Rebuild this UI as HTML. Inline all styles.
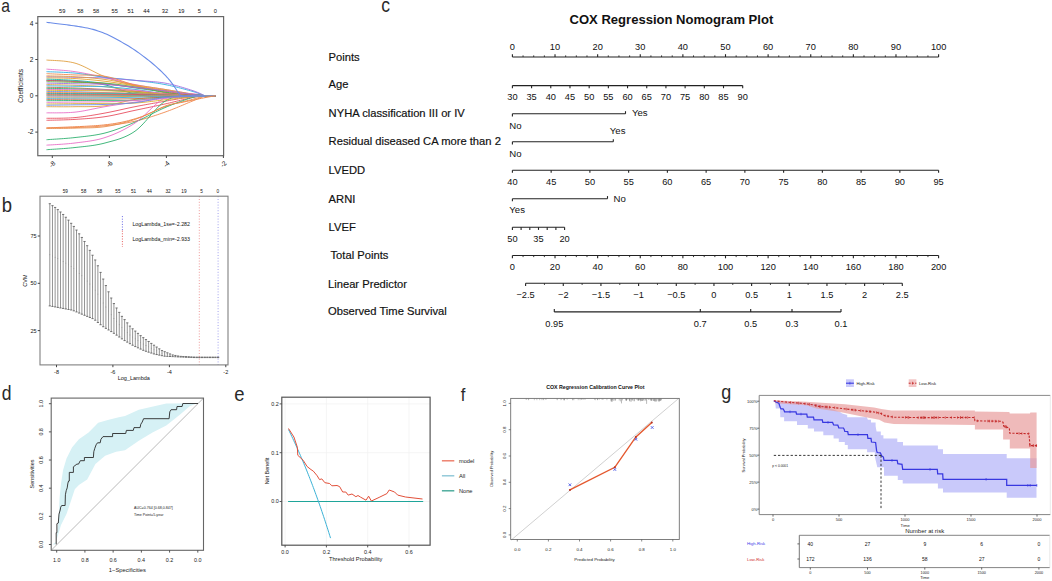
<!DOCTYPE html>
<html><head><meta charset="utf-8"><title>Figure</title>
<style>
html,body{margin:0;padding:0;background:#ffffff;width:1052px;height:581px;overflow:hidden}
svg{display:block}
text{font-family:"Liberation Sans",sans-serif}
</style></head><body>
<svg width="1052" height="581" viewBox="0 0 1052 581">
<rect x="0" y="0" width="1052" height="581" fill="#ffffff"/>
<text transform="translate(1.20,12.40) scale(0.85,1)" x="0" y="0" font-size="18.5" fill="#2a2a2a">a</text>
<text transform="translate(1.80,212.30) scale(0.9,1)" x="0" y="0" font-size="20.5" fill="#2a2a2a">b</text>
<text transform="translate(381.20,11.80) scale(0.9,1)" x="0" y="0" font-size="19.5" fill="#2a2a2a">c</text>
<text transform="translate(1.80,400.40) scale(0.9,1)" x="0" y="0" font-size="19.5" fill="#2a2a2a">d</text>
<text transform="translate(234.20,400.70) scale(0.9,1)" x="0" y="0" font-size="20.5" fill="#2a2a2a">e</text>
<text transform="translate(460.80,400.50) scale(0.9,1)" x="0" y="0" font-size="18.5" fill="#2a2a2a">f</text>
<text transform="translate(721.30,399.30) scale(0.9,1)" x="0" y="0" font-size="20" fill="#2a2a2a">g</text>
<path d="M46.50,60.04 L47.65,60.14 L49.06,60.23 L50.69,60.31 L52.52,60.39 L54.51,60.49 L56.64,60.60 L58.88,60.74 L61.19,60.91 L63.54,61.12 L65.92,61.39 L68.28,61.72 L70.60,62.11 L72.85,62.58 L75.00,63.13 L76.96,63.74 L78.92,64.45 L80.90,65.25 L82.89,66.12 L84.89,67.06 L86.89,68.03 L88.90,69.05 L90.91,70.08 L92.93,71.12 L94.94,72.15 L96.96,73.16 L98.98,74.14 L100.99,75.07 L103.00,75.94 L105.00,76.74 L107.00,77.49 L109.00,78.21 L111.00,78.92 L113.00,79.61 L115.00,80.27 L117.00,80.92 L119.00,81.54 L121.00,82.15 L123.00,82.73 L125.00,83.30 L127.00,83.84 L129.00,84.37 L131.00,84.87 L133.00,85.35 L135.00,85.82 L137.01,86.25 L139.02,86.65 L141.05,87.02 L143.08,87.37 L145.11,87.69 L147.14,87.99 L149.17,88.27 L151.20,88.54 L153.22,88.80 L155.22,89.05 L157.22,89.30 L159.19,89.55 L161.15,89.81 L163.09,90.08 L165.00,90.36 L167.21,90.69 L169.46,91.02 L171.72,91.37 L173.99,91.71 L176.24,92.05 L178.47,92.38 L180.65,92.71 L182.77,93.02 L184.82,93.32 L186.79,93.61 L188.65,93.88 L190.39,94.13 L192.00,94.35 L195.13,94.75 L197.85,95.07 L200.19,95.32 L202.15,95.52 L203.75,95.67 L205.00,95.80 L215.50,95.80" stroke="#E0A040" stroke-width="1.0" fill="none" stroke-opacity="0.9"/>
<path d="M46.50,69.12 L47.65,69.21 L49.06,69.32 L50.69,69.43 L52.52,69.56 L54.51,69.70 L56.64,69.85 L58.88,70.02 L61.19,70.20 L63.54,70.39 L65.92,70.61 L68.28,70.84 L70.60,71.09 L72.85,71.37 L75.00,71.66 L76.96,71.96 L78.92,72.28 L80.90,72.62 L82.89,72.99 L84.89,73.37 L86.89,73.76 L88.90,74.17 L90.91,74.59 L92.93,75.02 L94.94,75.46 L96.96,75.90 L98.98,76.34 L100.99,76.78 L103.00,77.22 L105.00,77.65 L107.00,78.09 L109.00,78.54 L111.00,79.00 L113.00,79.48 L115.00,79.96 L117.00,80.44 L119.00,80.92 L121.00,81.41 L123.00,81.89 L125.00,82.36 L127.00,82.83 L129.00,83.28 L131.00,83.72 L133.00,84.14 L135.00,84.55 L137.01,84.93 L139.02,85.30 L141.05,85.66 L143.08,86.01 L145.11,86.34 L147.14,86.67 L149.17,86.99 L151.20,87.30 L153.22,87.61 L155.22,87.91 L157.22,88.22 L159.19,88.52 L161.15,88.83 L163.09,89.14 L165.00,89.45 L167.21,89.82 L169.46,90.19 L171.72,90.58 L173.99,90.96 L176.24,91.34 L178.47,91.72 L180.65,92.09 L182.77,92.45 L184.82,92.80 L186.79,93.13 L188.65,93.44 L190.39,93.73 L192.00,93.98 L195.13,94.47 L197.85,94.86 L200.19,95.18 L202.15,95.43 L203.75,95.63 L205.00,95.80 L215.50,95.80" stroke="#E870C8" stroke-width="1.0" fill="none" stroke-opacity="0.9"/>
<path d="M46.50,71.66 L47.65,71.71 L49.06,71.77 L50.69,71.83 L52.52,71.89 L54.51,71.96 L56.64,72.04 L58.88,72.13 L61.19,72.22 L63.54,72.33 L65.92,72.46 L68.28,72.60 L70.60,72.75 L72.85,72.92 L75.00,73.11 L76.96,73.31 L78.92,73.54 L80.90,73.79 L82.89,74.06 L84.89,74.34 L86.89,74.64 L88.90,74.94 L90.91,75.25 L92.93,75.56 L94.94,75.88 L96.96,76.18 L98.98,76.48 L100.99,76.76 L103.00,77.03 L105.00,77.29 L107.00,77.52 L109.00,77.74 L111.00,77.96 L113.00,78.16 L115.00,78.36 L117.00,78.55 L119.00,78.74 L121.00,78.92 L123.00,79.11 L125.00,79.30 L127.00,79.50 L129.00,79.70 L131.00,79.91 L133.00,80.14 L135.00,80.37 L137.01,80.61 L139.02,80.85 L141.05,81.10 L143.08,81.34 L145.11,81.59 L147.14,81.84 L149.17,82.10 L151.20,82.37 L153.22,82.64 L155.22,82.93 L157.22,83.22 L159.19,83.53 L161.15,83.85 L163.09,84.19 L165.00,84.55 L167.21,84.99 L169.46,85.46 L171.72,85.97 L173.99,86.50 L176.24,87.04 L178.47,87.60 L180.65,88.16 L182.77,88.72 L184.82,89.27 L186.79,89.81 L188.65,90.32 L190.39,90.81 L192.00,91.26 L195.13,92.20 L197.85,93.10 L200.19,93.95 L202.15,94.70 L203.75,95.33 L205.00,95.80 L215.50,95.80" stroke="#30B0E0" stroke-width="1.0" fill="none" stroke-opacity="0.9"/>
<path d="M46.50,76.74 L47.65,76.76 L49.06,76.79 L50.69,76.82 L52.52,76.85 L54.51,76.89 L56.64,76.93 L58.88,76.97 L61.19,77.01 L63.54,77.06 L65.92,77.10 L68.28,77.15 L70.60,77.19 L72.85,77.24 L75.00,77.29 L76.96,77.33 L78.92,77.36 L80.90,77.39 L82.89,77.42 L84.89,77.46 L86.89,77.49 L88.90,77.52 L90.91,77.56 L92.93,77.60 L94.94,77.64 L96.96,77.70 L98.98,77.76 L100.99,77.83 L103.00,77.92 L105.00,78.01 L107.00,78.12 L109.00,78.24 L111.00,78.37 L113.00,78.52 L115.00,78.67 L117.00,78.82 L119.00,78.98 L121.00,79.15 L123.00,79.32 L125.00,79.50 L127.00,79.67 L129.00,79.85 L131.00,80.03 L133.00,80.20 L135.00,80.37 L137.01,80.53 L139.02,80.68 L141.05,80.82 L143.08,80.95 L145.11,81.09 L147.14,81.22 L149.17,81.36 L151.20,81.50 L153.22,81.66 L155.22,81.84 L157.22,82.03 L159.19,82.25 L161.15,82.50 L163.09,82.78 L165.00,83.09 L167.21,83.51 L169.46,83.98 L171.72,84.50 L173.99,85.05 L176.24,85.64 L178.47,86.25 L180.65,86.87 L182.77,87.49 L184.82,88.11 L186.79,88.71 L188.65,89.29 L190.39,89.84 L192.00,90.36 L195.13,91.43 L197.85,92.51 L200.19,93.53 L202.15,94.46 L203.75,95.23 L205.00,95.80 L215.50,95.80" stroke="#A070E0" stroke-width="1.0" fill="none" stroke-opacity="0.9"/>
<path d="M46.50,75.83 L47.65,75.87 L49.06,75.90 L50.69,75.94 L52.52,75.98 L54.51,76.02 L56.64,76.07 L58.88,76.12 L61.19,76.18 L63.54,76.25 L65.92,76.32 L68.28,76.41 L70.60,76.51 L72.85,76.62 L75.00,76.74 L76.96,76.87 L78.92,76.99 L80.90,77.13 L82.89,77.27 L84.89,77.41 L86.89,77.57 L88.90,77.73 L90.91,77.91 L92.93,78.09 L94.94,78.29 L96.96,78.50 L98.98,78.72 L100.99,78.95 L103.00,79.20 L105.00,79.47 L107.00,79.75 L109.00,80.06 L111.00,80.39 L113.00,80.75 L115.00,81.11 L117.00,81.49 L119.00,81.88 L121.00,82.27 L123.00,82.67 L125.00,83.06 L127.00,83.45 L129.00,83.84 L131.00,84.21 L133.00,84.57 L135.00,84.91 L137.01,85.24 L139.02,85.56 L141.05,85.88 L143.08,86.19 L145.11,86.49 L147.14,86.79 L149.17,87.09 L151.20,87.38 L153.22,87.68 L155.22,87.97 L157.22,88.26 L159.19,88.55 L161.15,88.85 L163.09,89.15 L165.00,89.45 L167.21,89.80 L169.46,90.17 L171.72,90.55 L173.99,90.93 L176.24,91.32 L178.47,91.70 L180.65,92.07 L182.77,92.44 L184.82,92.79 L186.79,93.12 L188.65,93.44 L190.39,93.73 L192.00,93.98 L195.13,94.47 L197.85,94.86 L200.19,95.18 L202.15,95.43 L203.75,95.63 L205.00,95.80 L215.50,95.80" stroke="#E0A040" stroke-width="1.0" fill="none" stroke-opacity="0.9"/>
<path d="M46.50,77.83 L47.65,77.86 L49.06,77.88 L50.69,77.90 L52.52,77.93 L54.51,77.96 L56.64,77.99 L58.88,78.02 L61.19,78.07 L63.54,78.12 L65.92,78.18 L68.28,78.26 L70.60,78.34 L72.85,78.44 L75.00,78.56 L76.96,78.68 L78.92,78.81 L80.90,78.95 L82.89,79.09 L84.89,79.25 L86.89,79.42 L88.90,79.59 L90.91,79.77 L92.93,79.96 L94.94,80.16 L96.96,80.37 L98.98,80.59 L100.99,80.81 L103.00,81.04 L105.00,81.28 L107.00,81.53 L109.00,81.79 L111.00,82.07 L113.00,82.36 L115.00,82.66 L117.00,82.96 L119.00,83.28 L121.00,83.59 L123.00,83.92 L125.00,84.24 L127.00,84.56 L129.00,84.88 L131.00,85.20 L133.00,85.51 L135.00,85.82 L137.01,86.12 L139.02,86.43 L141.05,86.73 L143.08,87.04 L145.11,87.35 L147.14,87.66 L149.17,87.97 L151.20,88.27 L153.22,88.58 L155.22,88.88 L157.22,89.18 L159.19,89.48 L161.15,89.78 L163.09,90.07 L165.00,90.36 L167.21,90.69 L169.46,91.02 L171.72,91.37 L173.99,91.71 L176.24,92.05 L178.47,92.38 L180.65,92.71 L182.77,93.02 L184.82,93.32 L186.79,93.61 L188.65,93.88 L190.39,94.13 L192.00,94.35 L195.13,94.75 L197.85,95.07 L200.19,95.32 L202.15,95.52 L203.75,95.67 L205.00,95.80 L215.50,95.80" stroke="#E8A030" stroke-width="1.0" fill="none" stroke-opacity="0.9"/>
<path d="M46.50,80.37 L47.65,80.40 L49.06,80.43 L50.69,80.46 L52.52,80.49 L54.51,80.52 L56.64,80.56 L58.88,80.60 L61.19,80.65 L63.54,80.72 L65.92,80.80 L68.28,80.89 L70.60,81.00 L72.85,81.13 L75.00,81.28 L76.96,81.43 L78.92,81.59 L80.90,81.74 L82.89,81.91 L84.89,82.09 L86.89,82.27 L88.90,82.48 L90.91,82.70 L92.93,82.94 L94.94,83.20 L96.96,83.48 L98.98,83.79 L100.99,84.13 L103.00,84.50 L105.00,84.91 L107.00,85.37 L109.00,85.89 L111.00,86.46 L113.00,87.08 L115.00,87.73 L117.00,88.41 L119.00,89.10 L121.00,89.80 L123.00,90.49 L125.00,91.16 L127.00,91.81 L129.00,92.43 L131.00,93.01 L133.00,93.53 L135.00,93.98 L137.01,94.39 L139.02,94.78 L141.05,95.13 L143.08,95.46 L145.11,95.77 L147.14,96.05 L149.17,96.30 L151.20,96.54 L153.22,96.75 L155.22,96.94 L157.22,97.11 L159.19,97.27 L161.15,97.40 L163.09,97.52 L165.00,97.61 L167.21,97.69 L169.46,97.73 L171.72,97.72 L173.99,97.67 L176.24,97.60 L178.47,97.50 L180.65,97.39 L182.77,97.26 L184.82,97.14 L186.79,97.01 L188.65,96.89 L190.39,96.79 L192.00,96.71 L195.13,96.55 L197.85,96.37 L200.19,96.20 L202.15,96.04 L203.75,95.90 L205.00,95.80 L215.50,95.80" stroke="#20A090" stroke-width="1.0" fill="none" stroke-opacity="0.9"/>
<path d="M46.50,106.69 L47.65,106.69 L49.06,106.70 L50.69,106.71 L52.52,106.72 L54.51,106.73 L56.64,106.74 L58.88,106.75 L61.19,106.75 L63.54,106.76 L65.92,106.76 L68.28,106.75 L70.60,106.74 L72.85,106.72 L75.00,106.69 L76.96,106.67 L78.92,106.66 L80.90,106.65 L82.89,106.66 L84.89,106.66 L86.89,106.65 L88.90,106.64 L90.91,106.62 L92.93,106.58 L94.94,106.52 L96.96,106.44 L98.98,106.33 L100.99,106.18 L103.00,106.00 L105.00,105.78 L107.00,105.51 L109.00,105.18 L111.00,104.80 L113.00,104.38 L115.00,103.93 L117.00,103.46 L119.00,102.97 L121.00,102.47 L123.00,101.97 L125.00,101.48 L127.00,101.01 L129.00,100.56 L131.00,100.14 L133.00,99.76 L135.00,99.43 L137.01,99.14 L139.02,98.87 L141.05,98.62 L143.08,98.40 L145.11,98.19 L147.14,97.99 L149.17,97.81 L151.20,97.65 L153.22,97.49 L155.22,97.35 L157.22,97.21 L159.19,97.08 L161.15,96.95 L163.09,96.83 L165.00,96.71 L167.21,96.58 L169.46,96.46 L171.72,96.36 L173.99,96.26 L176.24,96.18 L178.47,96.12 L180.65,96.05 L182.77,96.00 L184.82,95.95 L186.79,95.91 L188.65,95.87 L190.39,95.84 L192.00,95.80 L195.13,95.75 L197.85,95.73 L200.19,95.74 L202.15,95.77 L203.75,95.79 L205.00,95.80 L215.50,95.80" stroke="#E0A040" stroke-width="1.0" fill="none" stroke-opacity="0.9"/>
<path d="M46.50,112.86 L47.65,112.84 L49.06,112.84 L50.69,112.84 L52.52,112.84 L54.51,112.85 L56.64,112.85 L58.88,112.84 L61.19,112.81 L63.54,112.77 L65.92,112.71 L68.28,112.62 L70.60,112.49 L72.85,112.33 L75.00,112.13 L76.96,111.91 L78.92,111.64 L80.90,111.33 L82.89,111.00 L84.89,110.64 L86.89,110.25 L88.90,109.85 L90.91,109.44 L92.93,109.03 L94.94,108.61 L96.96,108.20 L98.98,107.80 L100.99,107.41 L103.00,107.04 L105.00,106.69 L107.00,106.36 L109.00,106.03 L111.00,105.71 L113.00,105.39 L115.00,105.08 L117.00,104.77 L119.00,104.46 L121.00,104.16 L123.00,103.86 L125.00,103.56 L127.00,103.27 L129.00,102.99 L131.00,102.71 L133.00,102.43 L135.00,102.15 L137.01,101.88 L139.02,101.62 L141.05,101.35 L143.08,101.10 L145.11,100.84 L147.14,100.59 L149.17,100.35 L151.20,100.10 L153.22,99.87 L155.22,99.63 L157.22,99.40 L159.19,99.18 L161.15,98.95 L163.09,98.74 L165.00,98.52 L167.21,98.28 L169.46,98.03 L171.72,97.78 L173.99,97.53 L176.24,97.29 L178.47,97.05 L180.65,96.82 L182.77,96.61 L184.82,96.41 L186.79,96.22 L188.65,96.06 L190.39,95.92 L192.00,95.80 L195.13,95.64 L197.85,95.60 L200.19,95.63 L202.15,95.70 L203.75,95.77 L205.00,95.80 L215.50,95.80" stroke="#E870C8" stroke-width="1.0" fill="none" stroke-opacity="0.9"/>
<path d="M46.50,118.31 L47.65,118.29 L49.06,118.27 L50.69,118.27 L52.52,118.26 L54.51,118.26 L56.64,118.25 L58.88,118.23 L61.19,118.20 L63.54,118.15 L65.92,118.09 L68.28,118.00 L70.60,117.89 L72.85,117.75 L75.00,117.58 L76.96,117.39 L78.92,117.18 L80.90,116.95 L82.89,116.69 L84.89,116.42 L86.89,116.13 L88.90,115.82 L90.91,115.50 L92.93,115.17 L94.94,114.83 L96.96,114.48 L98.98,114.13 L100.99,113.77 L103.00,113.41 L105.00,113.04 L107.00,112.67 L109.00,112.28 L111.00,111.87 L113.00,111.45 L115.00,111.03 L117.00,110.59 L119.00,110.15 L121.00,109.70 L123.00,109.25 L125.00,108.81 L127.00,108.37 L129.00,107.93 L131.00,107.51 L133.00,107.09 L135.00,106.69 L137.01,106.30 L139.02,105.91 L141.05,105.53 L143.08,105.15 L145.11,104.77 L147.14,104.40 L149.17,104.04 L151.20,103.67 L153.22,103.31 L155.22,102.96 L157.22,102.61 L159.19,102.26 L161.15,101.92 L163.09,101.58 L165.00,101.24 L167.21,100.86 L169.46,100.46 L171.72,100.06 L173.99,99.66 L176.24,99.27 L178.47,98.88 L180.65,98.51 L182.77,98.15 L184.82,97.81 L186.79,97.49 L188.65,97.20 L190.39,96.94 L192.00,96.71 L195.13,96.34 L197.85,96.10 L200.19,95.97 L202.15,95.90 L203.75,95.86 L205.00,95.80 L215.50,95.80" stroke="#E85060" stroke-width="1.0" fill="none" stroke-opacity="0.9"/>
<path d="M46.50,120.30 L47.65,120.27 L49.06,120.24 L50.69,120.20 L52.52,120.16 L54.51,120.12 L56.64,120.07 L58.88,120.02 L61.19,119.96 L63.54,119.89 L65.92,119.81 L68.28,119.73 L70.60,119.63 L72.85,119.52 L75.00,119.39 L76.96,119.27 L78.92,119.15 L80.90,119.02 L82.89,118.89 L84.89,118.76 L86.89,118.61 L88.90,118.46 L90.91,118.29 L92.93,118.11 L94.94,117.92 L96.96,117.71 L98.98,117.48 L100.99,117.23 L103.00,116.96 L105.00,116.67 L107.00,116.35 L109.00,116.01 L111.00,115.63 L113.00,115.24 L115.00,114.82 L117.00,114.39 L119.00,113.95 L121.00,113.50 L123.00,113.04 L125.00,112.57 L127.00,112.11 L129.00,111.65 L131.00,111.19 L133.00,110.75 L135.00,110.32 L137.01,109.90 L139.02,109.47 L141.05,109.05 L143.08,108.63 L145.11,108.20 L147.14,107.78 L149.17,107.36 L151.20,106.93 L153.22,106.51 L155.22,106.09 L157.22,105.66 L159.19,105.24 L161.15,104.81 L163.09,104.39 L165.00,103.97 L167.21,103.47 L169.46,102.94 L171.72,102.41 L173.99,101.86 L176.24,101.32 L178.47,100.78 L180.65,100.24 L182.77,99.73 L184.82,99.24 L186.79,98.77 L188.65,98.34 L190.39,97.95 L192.00,97.61 L195.13,97.03 L197.85,96.61 L200.19,96.31 L202.15,96.10 L203.75,95.94 L205.00,95.80 L215.50,95.80" stroke="#E85060" stroke-width="1.0" fill="none" stroke-opacity="0.9"/>
<path d="M46.50,127.93 L47.65,127.91 L49.06,127.91 L50.69,127.90 L52.52,127.89 L54.51,127.88 L56.64,127.87 L58.88,127.86 L61.19,127.84 L63.54,127.81 L65.92,127.78 L68.28,127.74 L70.60,127.69 L72.85,127.63 L75.00,127.56 L76.96,127.49 L78.92,127.41 L80.90,127.34 L82.89,127.25 L84.89,127.17 L86.89,127.07 L88.90,126.97 L90.91,126.86 L92.93,126.74 L94.94,126.61 L96.96,126.46 L98.98,126.31 L100.99,126.14 L103.00,125.95 L105.00,125.75 L107.00,125.53 L109.00,125.31 L111.00,125.09 L113.00,124.85 L115.00,124.60 L117.00,124.35 L119.00,124.07 L121.00,123.79 L123.00,123.48 L125.00,123.16 L127.00,122.82 L129.00,122.45 L131.00,122.06 L133.00,121.65 L135.00,121.21 L137.01,120.74 L139.02,120.24 L141.05,119.71 L143.08,119.16 L145.11,118.59 L147.14,117.99 L149.17,117.38 L151.20,116.75 L153.22,116.11 L155.22,115.46 L157.22,114.80 L159.19,114.14 L161.15,113.47 L163.09,112.80 L165.00,112.13 L167.21,111.34 L169.46,110.51 L171.72,109.63 L173.99,108.74 L176.24,107.83 L178.47,106.92 L180.65,106.01 L182.77,105.12 L184.82,104.25 L186.79,103.42 L188.65,102.64 L190.39,101.91 L192.00,101.24 L195.13,99.96 L197.85,98.82 L200.19,97.84 L202.15,97.01 L203.75,96.33 L205.00,95.80 L215.50,95.80" stroke="#F08A50" stroke-width="1.0" fill="none" stroke-opacity="0.9"/>
<path d="M46.50,128.47 L47.65,128.46 L49.06,128.45 L50.69,128.44 L52.52,128.42 L54.51,128.41 L56.64,128.40 L58.88,128.38 L61.19,128.36 L63.54,128.33 L65.92,128.30 L68.28,128.26 L70.60,128.22 L72.85,128.17 L75.00,128.11 L76.96,128.05 L78.92,128.01 L80.90,127.98 L82.89,127.95 L84.89,127.92 L86.89,127.88 L88.90,127.84 L90.91,127.78 L92.93,127.71 L94.94,127.61 L96.96,127.49 L98.98,127.33 L100.99,127.15 L103.00,126.92 L105.00,126.66 L107.00,126.35 L109.00,126.02 L111.00,125.66 L113.00,125.28 L115.00,124.87 L117.00,124.43 L119.00,123.97 L121.00,123.48 L123.00,122.97 L125.00,122.43 L127.00,121.87 L129.00,121.29 L131.00,120.68 L133.00,120.05 L135.00,119.39 L137.01,118.69 L139.02,117.93 L141.05,117.12 L143.08,116.26 L145.11,115.36 L147.14,114.44 L149.17,113.51 L151.20,112.57 L153.22,111.64 L155.22,110.72 L157.22,109.83 L159.19,108.97 L161.15,108.15 L163.09,107.39 L165.00,106.69 L167.21,105.94 L169.46,105.24 L171.72,104.57 L173.99,103.94 L176.24,103.34 L178.47,102.77 L180.65,102.23 L182.77,101.71 L184.82,101.22 L186.79,100.75 L188.65,100.29 L190.39,99.85 L192.00,99.43 L195.13,98.57 L197.85,97.82 L200.19,97.16 L202.15,96.61 L203.75,96.15 L205.00,95.80 L215.50,95.80" stroke="#E89050" stroke-width="1.0" fill="none" stroke-opacity="0.9"/>
<path d="M46.50,139.72 L47.65,139.64 L49.06,139.55 L50.69,139.44 L52.52,139.33 L54.51,139.20 L56.64,139.07 L58.88,138.92 L61.19,138.76 L63.54,138.59 L65.92,138.40 L68.28,138.21 L70.60,138.00 L72.85,137.78 L75.00,137.54 L76.96,137.32 L78.92,137.11 L80.90,136.89 L82.89,136.67 L84.89,136.44 L86.89,136.20 L88.90,135.95 L90.91,135.68 L92.93,135.39 L94.94,135.08 L96.96,134.73 L98.98,134.36 L100.99,133.95 L103.00,133.50 L105.00,133.01 L107.00,132.47 L109.00,131.90 L111.00,131.29 L113.00,130.65 L115.00,129.98 L117.00,129.28 L119.00,128.56 L121.00,127.81 L123.00,127.04 L125.00,126.25 L127.00,125.45 L129.00,124.63 L131.00,123.80 L133.00,122.96 L135.00,122.12 L137.01,121.25 L139.02,120.33 L141.05,119.37 L143.08,118.39 L145.11,117.38 L147.14,116.35 L149.17,115.32 L151.20,114.28 L153.22,113.25 L155.22,112.24 L157.22,111.24 L159.19,110.27 L161.15,109.33 L163.09,108.44 L165.00,107.60 L167.21,106.66 L169.46,105.73 L171.72,104.82 L173.99,103.92 L176.24,103.06 L178.47,102.22 L180.65,101.42 L182.77,100.65 L184.82,99.94 L186.79,99.27 L188.65,98.66 L190.39,98.10 L192.00,97.61 L195.13,96.82 L197.85,96.34 L200.19,96.08 L202.15,95.97 L203.75,95.90 L205.00,95.80 L215.50,95.80" stroke="#30B070" stroke-width="1.0" fill="none" stroke-opacity="0.9"/>
<path d="M46.50,145.17 L47.65,145.09 L49.06,145.00 L50.69,144.90 L52.52,144.80 L54.51,144.68 L56.64,144.56 L58.88,144.42 L61.19,144.27 L63.54,144.10 L65.92,143.91 L68.28,143.71 L70.60,143.49 L72.85,143.25 L75.00,142.99 L76.96,142.74 L78.92,142.50 L80.90,142.26 L82.89,142.01 L84.89,141.75 L86.89,141.48 L88.90,141.19 L90.91,140.88 L92.93,140.53 L94.94,140.15 L96.96,139.73 L98.98,139.27 L100.99,138.75 L103.00,138.18 L105.00,137.54 L107.00,136.86 L109.00,136.15 L111.00,135.40 L113.00,134.61 L115.00,133.78 L117.00,132.91 L119.00,132.00 L121.00,131.05 L123.00,130.05 L125.00,129.01 L127.00,127.91 L129.00,126.77 L131.00,125.58 L133.00,124.33 L135.00,123.02 L137.01,121.60 L139.02,120.01 L141.05,118.29 L143.08,116.46 L145.11,114.55 L147.14,112.60 L149.17,110.62 L151.20,108.66 L153.22,106.73 L155.22,104.87 L157.22,103.11 L159.19,101.48 L161.15,100.00 L163.09,98.70 L165.00,97.61 L167.21,96.61 L169.46,95.80 L171.72,95.18 L173.99,94.71 L176.24,94.38 L178.47,94.17 L180.65,94.05 L182.77,93.99 L184.82,93.99 L186.79,94.00 L188.65,94.03 L190.39,94.03 L192.00,93.98 L195.13,93.99 L197.85,94.25 L200.19,94.67 L202.15,95.13 L203.75,95.54 L205.00,95.80 L215.50,95.80" stroke="#E870C8" stroke-width="1.0" fill="none" stroke-opacity="0.9"/>
<path d="M46.50,149.71 L47.65,149.62 L49.06,149.53 L50.69,149.43 L52.52,149.31 L54.51,149.19 L56.64,149.05 L58.88,148.90 L61.19,148.74 L63.54,148.57 L65.92,148.39 L68.28,148.19 L70.60,147.98 L72.85,147.76 L75.00,147.53 L76.96,147.31 L78.92,147.10 L80.90,146.89 L82.89,146.68 L84.89,146.46 L86.89,146.23 L88.90,145.99 L90.91,145.73 L92.93,145.44 L94.94,145.13 L96.96,144.78 L98.98,144.40 L100.99,143.98 L103.00,143.51 L105.00,142.99 L107.00,142.45 L109.00,141.92 L111.00,141.39 L113.00,140.84 L115.00,140.27 L117.00,139.66 L119.00,139.02 L121.00,138.32 L123.00,137.57 L125.00,136.74 L127.00,135.83 L129.00,134.83 L131.00,133.73 L133.00,132.52 L135.00,131.19 L137.01,129.67 L139.02,127.93 L141.05,125.99 L143.08,123.89 L145.11,121.68 L147.14,119.39 L149.17,117.05 L151.20,114.71 L153.22,112.40 L155.22,110.15 L157.22,108.01 L159.19,106.01 L161.15,104.20 L163.09,102.59 L165.00,101.24 L167.21,99.96 L169.46,98.90 L171.72,98.02 L173.99,97.31 L176.24,96.75 L178.47,96.32 L180.65,95.99 L182.77,95.73 L184.82,95.54 L186.79,95.38 L188.65,95.23 L190.39,95.08 L192.00,94.89 L195.13,94.63 L197.85,94.69 L200.19,94.95 L202.15,95.30 L203.75,95.62 L205.00,95.80 L215.50,95.80" stroke="#30B070" stroke-width="1.0" fill="none" stroke-opacity="0.9"/>
<path d="M46.50,73.66 L47.65,73.71 L49.06,73.77 L50.69,73.84 L52.52,73.93 L54.51,74.01 L56.64,74.11 L58.88,74.21 L61.19,74.31 L63.54,74.42 L65.92,74.52 L68.28,74.63 L70.60,74.73 L72.85,74.83 L75.00,74.93 L76.96,75.00 L78.92,75.04 L80.90,75.07 L82.89,75.08 L84.89,75.09 L86.89,75.09 L88.90,75.10 L90.91,75.13 L92.93,75.18 L94.94,75.25 L96.96,75.36 L98.98,75.51 L100.99,75.71 L103.00,75.96 L105.00,76.27 L107.00,76.65 L109.00,77.09 L111.00,77.60 L113.00,78.15 L115.00,78.75 L117.00,79.38 L119.00,80.04 L121.00,80.71 L123.00,81.40 L125.00,82.08 L127.00,82.76 L129.00,83.43 L131.00,84.07 L133.00,84.68 L135.00,85.25 L137.01,85.81 L139.02,86.37 L141.05,86.93 L143.08,87.49 L145.11,88.04 L147.14,88.59 L149.17,89.13 L151.20,89.66 L153.22,90.17 L155.22,90.67 L157.22,91.14 L159.19,91.60 L161.15,92.03 L163.09,92.42 L165.00,92.79 L167.21,93.18 L169.46,93.53 L171.72,93.86 L173.99,94.15 L176.24,94.42 L178.47,94.66 L180.65,94.87 L182.77,95.07 L184.82,95.24 L186.79,95.40 L188.65,95.55 L190.39,95.68 L192.00,95.80 L195.13,95.97 L197.85,96.02 L200.19,95.99 L202.15,95.91 L203.75,95.83 L205.00,95.80 L215.50,95.80" stroke="#F08A50" stroke-width="1.0" fill="none" stroke-opacity="0.9"/>
<path d="M46.50,79.10 L47.65,79.15 L49.06,79.21 L50.69,79.27 L52.52,79.33 L54.51,79.41 L56.64,79.49 L58.88,79.57 L61.19,79.67 L63.54,79.77 L65.92,79.88 L68.28,80.00 L70.60,80.13 L72.85,80.27 L75.00,80.42 L76.96,80.57 L78.92,80.73 L80.90,80.90 L82.89,81.07 L84.89,81.25 L86.89,81.44 L88.90,81.64 L90.91,81.84 L92.93,82.05 L94.94,82.27 L96.96,82.49 L98.98,82.72 L100.99,82.96 L103.00,83.20 L105.00,83.44 L107.00,83.70 L109.00,83.97 L111.00,84.25 L113.00,84.54 L115.00,84.84 L117.00,85.14 L119.00,85.45 L121.00,85.76 L123.00,86.07 L125.00,86.39 L127.00,86.70 L129.00,87.01 L131.00,87.32 L133.00,87.62 L135.00,87.92 L137.01,88.21 L139.02,88.50 L141.05,88.80 L143.08,89.09 L145.11,89.38 L147.14,89.68 L149.17,89.97 L151.20,90.26 L153.22,90.54 L155.22,90.83 L157.22,91.11 L159.19,91.38 L161.15,91.65 L163.09,91.92 L165.00,92.18 L167.21,92.48 L169.46,92.78 L171.72,93.09 L173.99,93.40 L176.24,93.71 L178.47,94.00 L180.65,94.29 L182.77,94.56 L184.82,94.82 L186.79,95.06 L188.65,95.27 L190.39,95.46 L192.00,95.61 L195.13,95.83 L197.85,95.92 L200.19,95.92 L202.15,95.87 L203.75,95.82 L205.00,95.80 L215.50,95.80" stroke="#20B0A0" stroke-width="1.0" fill="none" stroke-opacity="0.9"/>
<path d="M46.50,80.37 L47.65,80.42 L49.06,80.48 L50.69,80.54 L52.52,80.61 L54.51,80.68 L56.64,80.76 L58.88,80.85 L61.19,80.94 L63.54,81.04 L65.92,81.15 L68.28,81.26 L70.60,81.37 L72.85,81.49 L75.00,81.62 L76.96,81.74 L78.92,81.87 L80.90,82.01 L82.89,82.15 L84.89,82.29 L86.89,82.44 L88.90,82.59 L90.91,82.75 L92.93,82.92 L94.94,83.09 L96.96,83.26 L98.98,83.44 L100.99,83.62 L103.00,83.81 L105.00,84.00 L107.00,84.20 L109.00,84.40 L111.00,84.62 L113.00,84.83 L115.00,85.06 L117.00,85.28 L119.00,85.52 L121.00,85.75 L123.00,85.99 L125.00,86.23 L127.00,86.47 L129.00,86.72 L131.00,86.96 L133.00,87.20 L135.00,87.44 L137.01,87.68 L139.02,87.93 L141.05,88.17 L143.08,88.41 L145.11,88.66 L147.14,88.91 L149.17,89.16 L151.20,89.41 L153.22,89.66 L155.22,89.91 L157.22,90.17 L159.19,90.43 L161.15,90.69 L163.09,90.95 L165.00,91.22 L167.21,91.54 L169.46,91.89 L171.72,92.25 L173.99,92.62 L176.24,93.00 L178.47,93.37 L180.65,93.74 L182.77,94.10 L184.82,94.43 L186.79,94.75 L188.65,95.03 L190.39,95.27 L192.00,95.47 L195.13,95.75 L197.85,95.88 L200.19,95.90 L202.15,95.86 L203.75,95.81 L205.00,95.80 L215.50,95.80" stroke="#E85060" stroke-width="1.0" fill="none" stroke-opacity="0.9"/>
<path d="M46.50,81.64 L47.65,81.67 L49.06,81.71 L50.69,81.75 L52.52,81.80 L54.51,81.85 L56.64,81.90 L58.88,81.96 L61.19,82.02 L63.54,82.08 L65.92,82.14 L68.28,82.20 L70.60,82.26 L72.85,82.31 L75.00,82.37 L76.96,82.41 L78.92,82.45 L80.90,82.47 L82.89,82.49 L84.89,82.51 L86.89,82.53 L88.90,82.55 L90.91,82.58 L92.93,82.61 L94.94,82.66 L96.96,82.71 L98.98,82.79 L100.99,82.88 L103.00,83.00 L105.00,83.13 L107.00,83.29 L109.00,83.47 L111.00,83.67 L113.00,83.88 L115.00,84.10 L117.00,84.34 L119.00,84.59 L121.00,84.86 L123.00,85.13 L125.00,85.41 L127.00,85.69 L129.00,85.98 L131.00,86.28 L133.00,86.58 L135.00,86.88 L137.01,87.19 L139.02,87.52 L141.05,87.86 L143.08,88.22 L145.11,88.58 L147.14,88.95 L149.17,89.33 L151.20,89.71 L153.22,90.08 L155.22,90.45 L157.22,90.82 L159.19,91.17 L161.15,91.51 L163.09,91.84 L165.00,92.15 L167.21,92.49 L169.46,92.84 L171.72,93.18 L173.99,93.51 L176.24,93.84 L178.47,94.15 L180.65,94.45 L182.77,94.74 L184.82,95.00 L186.79,95.24 L188.65,95.46 L190.39,95.64 L192.00,95.80 L195.13,96.01 L197.85,96.07 L200.19,96.03 L202.15,95.94 L203.75,95.84 L205.00,95.80 L215.50,95.80" stroke="#60B040" stroke-width="1.0" fill="none" stroke-opacity="0.9"/>
<path d="M46.50,83.09 L47.65,83.12 L49.06,83.15 L50.69,83.19 L52.52,83.23 L54.51,83.28 L56.64,83.33 L58.88,83.38 L61.19,83.43 L63.54,83.49 L65.92,83.54 L68.28,83.60 L70.60,83.65 L72.85,83.70 L75.00,83.75 L76.96,83.79 L78.92,83.83 L80.90,83.86 L82.89,83.88 L84.89,83.90 L86.89,83.93 L88.90,83.95 L90.91,83.98 L92.93,84.02 L94.94,84.06 L96.96,84.11 L98.98,84.17 L100.99,84.25 L103.00,84.34 L105.00,84.44 L107.00,84.57 L109.00,84.70 L111.00,84.85 L113.00,85.01 L115.00,85.18 L117.00,85.35 L119.00,85.54 L121.00,85.73 L123.00,85.93 L125.00,86.14 L127.00,86.34 L129.00,86.55 L131.00,86.76 L133.00,86.98 L135.00,87.19 L137.01,87.40 L139.02,87.63 L141.05,87.85 L143.08,88.09 L145.11,88.32 L147.14,88.57 L149.17,88.81 L151.20,89.06 L153.22,89.31 L155.22,89.56 L157.22,89.80 L159.19,90.05 L161.15,90.30 L163.09,90.54 L165.00,90.78 L167.21,91.06 L169.46,91.34 L171.72,91.64 L173.99,91.93 L176.24,92.23 L178.47,92.53 L180.65,92.82 L182.77,93.10 L184.82,93.37 L186.79,93.63 L188.65,93.87 L190.39,94.10 L192.00,94.30 L195.13,94.69 L197.85,95.01 L200.19,95.27 L202.15,95.49 L203.75,95.66 L205.00,95.80 L215.50,95.80" stroke="#A070E0" stroke-width="1.0" fill="none" stroke-opacity="0.9"/>
<path d="M46.50,84.55 L47.65,84.57 L49.06,84.61 L50.69,84.64 L52.52,84.68 L54.51,84.72 L56.64,84.77 L58.88,84.82 L61.19,84.87 L63.54,84.93 L65.92,84.99 L68.28,85.05 L70.60,85.12 L72.85,85.20 L75.00,85.27 L76.96,85.34 L78.92,85.41 L80.90,85.48 L82.89,85.54 L84.89,85.61 L86.89,85.68 L88.90,85.76 L90.91,85.84 L92.93,85.93 L94.94,86.04 L96.96,86.15 L98.98,86.28 L100.99,86.42 L103.00,86.58 L105.00,86.76 L107.00,86.96 L109.00,87.19 L111.00,87.44 L113.00,87.71 L115.00,87.99 L117.00,88.29 L119.00,88.59 L121.00,88.90 L123.00,89.21 L125.00,89.52 L127.00,89.83 L129.00,90.13 L131.00,90.41 L133.00,90.68 L135.00,90.94 L137.01,91.18 L139.02,91.42 L141.05,91.66 L143.08,91.89 L145.11,92.12 L147.14,92.35 L149.17,92.57 L151.20,92.78 L153.22,92.99 L155.22,93.19 L157.22,93.39 L159.19,93.58 L161.15,93.76 L163.09,93.93 L165.00,94.09 L167.21,94.27 L169.46,94.44 L171.72,94.61 L173.99,94.76 L176.24,94.90 L178.47,95.04 L180.65,95.16 L182.77,95.28 L184.82,95.39 L186.79,95.48 L188.65,95.57 L190.39,95.65 L192.00,95.72 L195.13,95.83 L197.85,95.87 L200.19,95.86 L202.15,95.84 L203.75,95.81 L205.00,95.80 L215.50,95.80" stroke="#E0A040" stroke-width="1.0" fill="none" stroke-opacity="0.9"/>
<path d="M46.50,85.82 L47.65,85.84 L49.06,85.86 L50.69,85.88 L52.52,85.91 L54.51,85.94 L56.64,85.98 L58.88,86.01 L61.19,86.05 L63.54,86.09 L65.92,86.12 L68.28,86.16 L70.60,86.20 L72.85,86.23 L75.00,86.27 L76.96,86.29 L78.92,86.31 L80.90,86.32 L82.89,86.33 L84.89,86.34 L86.89,86.35 L88.90,86.36 L90.91,86.37 L92.93,86.39 L94.94,86.42 L96.96,86.45 L98.98,86.50 L100.99,86.57 L103.00,86.64 L105.00,86.74 L107.00,86.85 L109.00,86.97 L111.00,87.11 L113.00,87.25 L115.00,87.41 L117.00,87.57 L119.00,87.74 L121.00,87.93 L123.00,88.12 L125.00,88.32 L127.00,88.53 L129.00,88.74 L131.00,88.97 L133.00,89.20 L135.00,89.43 L137.01,89.69 L139.02,89.96 L141.05,90.26 L143.08,90.58 L145.11,90.90 L147.14,91.24 L149.17,91.57 L151.20,91.91 L153.22,92.25 L155.22,92.57 L157.22,92.89 L159.19,93.19 L161.15,93.47 L163.09,93.72 L165.00,93.95 L167.21,94.18 L169.46,94.40 L171.72,94.60 L173.99,94.78 L176.24,94.94 L178.47,95.09 L180.65,95.22 L182.77,95.34 L184.82,95.45 L186.79,95.55 L188.65,95.64 L190.39,95.73 L192.00,95.80 L195.13,95.91 L197.85,95.94 L200.19,95.92 L202.15,95.87 L203.75,95.82 L205.00,95.80 L215.50,95.80" stroke="#30B0E0" stroke-width="1.0" fill="none" stroke-opacity="0.9"/>
<path d="M46.50,87.27 L47.65,87.30 L49.06,87.33 L50.69,87.36 L52.52,87.40 L54.51,87.44 L56.64,87.48 L58.88,87.53 L61.19,87.58 L63.54,87.64 L65.92,87.70 L68.28,87.76 L70.60,87.83 L72.85,87.90 L75.00,87.97 L76.96,88.05 L78.92,88.13 L80.90,88.21 L82.89,88.29 L84.89,88.38 L86.89,88.48 L88.90,88.57 L90.91,88.67 L92.93,88.78 L94.94,88.88 L96.96,88.99 L98.98,89.10 L100.99,89.21 L103.00,89.33 L105.00,89.44 L107.00,89.56 L109.00,89.68 L111.00,89.81 L113.00,89.94 L115.00,90.07 L117.00,90.21 L119.00,90.34 L121.00,90.48 L123.00,90.62 L125.00,90.76 L127.00,90.90 L129.00,91.04 L131.00,91.18 L133.00,91.32 L135.00,91.45 L137.01,91.59 L139.02,91.72 L141.05,91.85 L143.08,91.99 L145.11,92.12 L147.14,92.26 L149.17,92.39 L151.20,92.53 L153.22,92.66 L155.22,92.79 L157.22,92.92 L159.19,93.05 L161.15,93.18 L163.09,93.31 L165.00,93.43 L167.21,93.58 L169.46,93.73 L171.72,93.87 L173.99,94.02 L176.24,94.17 L178.47,94.32 L180.65,94.46 L182.77,94.60 L184.82,94.73 L186.79,94.85 L188.65,94.97 L190.39,95.08 L192.00,95.17 L195.13,95.35 L197.85,95.49 L200.19,95.59 L202.15,95.68 L203.75,95.74 L205.00,95.80 L215.50,95.80" stroke="#C07050" stroke-width="1.0" fill="none" stroke-opacity="0.9"/>
<path d="M46.50,88.36 L47.65,88.38 L49.06,88.40 L50.69,88.43 L52.52,88.45 L54.51,88.48 L56.64,88.52 L58.88,88.55 L61.19,88.59 L63.54,88.63 L65.92,88.68 L68.28,88.72 L70.60,88.78 L72.85,88.83 L75.00,88.89 L76.96,88.95 L78.92,89.01 L80.90,89.07 L82.89,89.13 L84.89,89.19 L86.89,89.26 L88.90,89.33 L90.91,89.41 L92.93,89.49 L94.94,89.57 L96.96,89.66 L98.98,89.75 L100.99,89.85 L103.00,89.96 L105.00,90.07 L107.00,90.19 L109.00,90.32 L111.00,90.46 L113.00,90.60 L115.00,90.75 L117.00,90.91 L119.00,91.07 L121.00,91.23 L123.00,91.39 L125.00,91.56 L127.00,91.72 L129.00,91.88 L131.00,92.04 L133.00,92.20 L135.00,92.35 L137.01,92.50 L139.02,92.66 L141.05,92.81 L143.08,92.97 L145.11,93.13 L147.14,93.29 L149.17,93.44 L151.20,93.60 L153.22,93.75 L155.22,93.90 L157.22,94.04 L159.19,94.18 L161.15,94.32 L163.09,94.44 L165.00,94.56 L167.21,94.69 L169.46,94.82 L171.72,94.94 L173.99,95.06 L176.24,95.17 L178.47,95.27 L180.65,95.37 L182.77,95.46 L184.82,95.54 L186.79,95.62 L188.65,95.69 L190.39,95.75 L192.00,95.80 L195.13,95.87 L197.85,95.89 L200.19,95.88 L202.15,95.85 L203.75,95.81 L205.00,95.80 L215.50,95.80" stroke="#30B070" stroke-width="1.0" fill="none" stroke-opacity="0.9"/>
<path d="M46.50,89.45 L47.65,89.46 L49.06,89.47 L50.69,89.48 L52.52,89.50 L54.51,89.51 L56.64,89.53 L58.88,89.55 L61.19,89.57 L63.54,89.59 L65.92,89.61 L68.28,89.63 L70.60,89.65 L72.85,89.67 L75.00,89.68 L76.96,89.70 L78.92,89.72 L80.90,89.73 L82.89,89.75 L84.89,89.77 L86.89,89.78 L88.90,89.80 L90.91,89.82 L92.93,89.83 L94.94,89.85 L96.96,89.87 L98.98,89.88 L100.99,89.90 L103.00,89.92 L105.00,89.93 L107.00,89.94 L109.00,89.94 L111.00,89.93 L113.00,89.91 L115.00,89.89 L117.00,89.87 L119.00,89.85 L121.00,89.84 L123.00,89.83 L125.00,89.84 L127.00,89.87 L129.00,89.91 L131.00,89.98 L133.00,90.07 L135.00,90.18 L137.01,90.34 L139.02,90.52 L141.05,90.74 L143.08,90.98 L145.11,91.24 L147.14,91.52 L149.17,91.81 L151.20,92.10 L153.22,92.39 L155.22,92.68 L157.22,92.97 L159.19,93.24 L161.15,93.49 L163.09,93.72 L165.00,93.92 L167.21,94.13 L169.46,94.33 L171.72,94.52 L173.99,94.70 L176.24,94.87 L178.47,95.02 L180.65,95.17 L182.77,95.30 L184.82,95.42 L186.79,95.53 L188.65,95.63 L190.39,95.72 L192.00,95.80 L195.13,95.91 L197.85,95.94 L200.19,95.92 L202.15,95.87 L203.75,95.82 L205.00,95.80 L215.50,95.80" stroke="#E870C8" stroke-width="1.0" fill="none" stroke-opacity="0.9"/>
<path d="M46.50,90.36 L47.65,90.36 L49.06,90.38 L50.69,90.39 L52.52,90.40 L54.51,90.42 L56.64,90.44 L58.88,90.46 L61.19,90.47 L63.54,90.49 L65.92,90.51 L68.28,90.53 L70.60,90.55 L72.85,90.57 L75.00,90.59 L76.96,90.60 L78.92,90.61 L80.90,90.62 L82.89,90.63 L84.89,90.64 L86.89,90.65 L88.90,90.66 L90.91,90.67 L92.93,90.68 L94.94,90.70 L96.96,90.72 L98.98,90.74 L100.99,90.76 L103.00,90.80 L105.00,90.83 L107.00,90.87 L109.00,90.91 L111.00,90.95 L113.00,91.00 L115.00,91.04 L117.00,91.09 L119.00,91.14 L121.00,91.20 L123.00,91.26 L125.00,91.33 L127.00,91.41 L129.00,91.49 L131.00,91.58 L133.00,91.68 L135.00,91.79 L137.01,91.92 L139.02,92.06 L141.05,92.21 L143.08,92.38 L145.11,92.55 L147.14,92.73 L149.17,92.92 L151.20,93.11 L153.22,93.30 L155.22,93.48 L157.22,93.67 L159.19,93.84 L161.15,94.01 L163.09,94.16 L165.00,94.30 L167.21,94.46 L169.46,94.60 L171.72,94.75 L173.99,94.89 L176.24,95.02 L178.47,95.15 L180.65,95.27 L182.77,95.38 L184.82,95.48 L186.79,95.58 L188.65,95.66 L190.39,95.74 L192.00,95.80 L195.13,95.89 L197.85,95.91 L200.19,95.89 L202.15,95.86 L203.75,95.82 L205.00,95.80 L215.50,95.80" stroke="#D8B030" stroke-width="1.0" fill="none" stroke-opacity="0.9"/>
<path d="M46.50,91.44 L47.65,91.46 L49.06,91.47 L50.69,91.49 L52.52,91.50 L54.51,91.52 L56.64,91.55 L58.88,91.57 L61.19,91.59 L63.54,91.62 L65.92,91.65 L68.28,91.68 L70.60,91.72 L72.85,91.75 L75.00,91.79 L76.96,91.83 L78.92,91.88 L80.90,91.92 L82.89,91.97 L84.89,92.02 L86.89,92.07 L88.90,92.12 L90.91,92.17 L92.93,92.23 L94.94,92.29 L96.96,92.35 L98.98,92.41 L100.99,92.47 L103.00,92.54 L105.00,92.61 L107.00,92.67 L109.00,92.75 L111.00,92.82 L113.00,92.90 L115.00,92.98 L117.00,93.06 L119.00,93.14 L121.00,93.23 L123.00,93.31 L125.00,93.40 L127.00,93.49 L129.00,93.57 L131.00,93.66 L133.00,93.74 L135.00,93.82 L137.01,93.91 L139.02,93.99 L141.05,94.08 L143.08,94.17 L145.11,94.26 L147.14,94.34 L149.17,94.43 L151.20,94.52 L153.22,94.61 L155.22,94.69 L157.22,94.77 L159.19,94.85 L161.15,94.93 L163.09,95.00 L165.00,95.07 L167.21,95.15 L169.46,95.22 L171.72,95.29 L173.99,95.36 L176.24,95.42 L178.47,95.48 L180.65,95.54 L182.77,95.60 L184.82,95.65 L186.79,95.69 L188.65,95.73 L190.39,95.77 L192.00,95.80 L195.13,95.84 L197.85,95.85 L200.19,95.85 L202.15,95.83 L203.75,95.81 L205.00,95.80 L215.50,95.80" stroke="#6A8CE8" stroke-width="1.0" fill="none" stroke-opacity="0.9"/>
<path d="M46.50,92.53 L47.65,92.54 L49.06,92.55 L50.69,92.55 L52.52,92.56 L54.51,92.57 L56.64,92.58 L58.88,92.59 L61.19,92.60 L63.54,92.61 L65.92,92.63 L68.28,92.64 L70.60,92.65 L72.85,92.66 L75.00,92.67 L76.96,92.68 L78.92,92.68 L80.90,92.69 L82.89,92.70 L84.89,92.71 L86.89,92.71 L88.90,92.72 L90.91,92.73 L92.93,92.73 L94.94,92.74 L96.96,92.75 L98.98,92.77 L100.99,92.78 L103.00,92.79 L105.00,92.81 L107.00,92.83 L109.00,92.84 L111.00,92.86 L113.00,92.87 L115.00,92.89 L117.00,92.90 L119.00,92.92 L121.00,92.94 L123.00,92.96 L125.00,92.99 L127.00,93.02 L129.00,93.06 L131.00,93.10 L133.00,93.15 L135.00,93.21 L137.01,93.27 L139.02,93.35 L141.05,93.43 L143.08,93.52 L145.11,93.62 L147.14,93.72 L149.17,93.82 L151.20,93.93 L153.22,94.04 L155.22,94.14 L157.22,94.25 L159.19,94.35 L161.15,94.45 L163.09,94.55 L165.00,94.64 L167.21,94.74 L169.46,94.84 L171.72,94.95 L173.99,95.05 L176.24,95.16 L178.47,95.26 L180.65,95.36 L182.77,95.45 L184.82,95.54 L186.79,95.62 L188.65,95.69 L190.39,95.75 L192.00,95.80 L195.13,95.87 L197.85,95.89 L200.19,95.87 L202.15,95.84 L203.75,95.81 L205.00,95.80 L215.50,95.80" stroke="#F08A50" stroke-width="1.0" fill="none" stroke-opacity="0.9"/>
<path d="M46.50,93.44 L47.65,93.44 L49.06,93.45 L50.69,93.46 L52.52,93.46 L54.51,93.47 L56.64,93.48 L58.88,93.49 L61.19,93.49 L63.54,93.50 L65.92,93.51 L68.28,93.52 L70.60,93.53 L72.85,93.54 L75.00,93.55 L76.96,93.55 L78.92,93.56 L80.90,93.56 L82.89,93.57 L84.89,93.57 L86.89,93.57 L88.90,93.58 L90.91,93.58 L92.93,93.59 L94.94,93.60 L96.96,93.60 L98.98,93.61 L100.99,93.63 L103.00,93.64 L105.00,93.66 L107.00,93.68 L109.00,93.70 L111.00,93.72 L113.00,93.74 L115.00,93.76 L117.00,93.79 L119.00,93.81 L121.00,93.84 L123.00,93.87 L125.00,93.90 L127.00,93.94 L129.00,93.97 L131.00,94.01 L133.00,94.05 L135.00,94.10 L137.01,94.15 L139.02,94.20 L141.05,94.25 L143.08,94.31 L145.11,94.37 L147.14,94.44 L149.17,94.50 L151.20,94.57 L153.22,94.64 L155.22,94.71 L157.22,94.77 L159.19,94.84 L161.15,94.90 L163.09,94.96 L165.00,95.02 L167.21,95.09 L169.46,95.16 L171.72,95.23 L173.99,95.30 L176.24,95.37 L178.47,95.43 L180.65,95.50 L182.77,95.56 L184.82,95.62 L186.79,95.68 L188.65,95.72 L190.39,95.77 L192.00,95.80 L195.13,95.85 L197.85,95.86 L200.19,95.85 L202.15,95.83 L203.75,95.81 L205.00,95.80 L215.50,95.80" stroke="#20B0A0" stroke-width="1.0" fill="none" stroke-opacity="0.9"/>
<path d="M46.50,94.35 L47.65,94.35 L49.06,94.35 L50.69,94.36 L52.52,94.36 L54.51,94.36 L56.64,94.37 L58.88,94.37 L61.19,94.38 L63.54,94.38 L65.92,94.39 L68.28,94.39 L70.60,94.39 L72.85,94.40 L75.00,94.40 L76.96,94.41 L78.92,94.41 L80.90,94.41 L82.89,94.42 L84.89,94.42 L86.89,94.43 L88.90,94.43 L90.91,94.43 L92.93,94.44 L94.94,94.44 L96.96,94.45 L98.98,94.45 L100.99,94.45 L103.00,94.46 L105.00,94.46 L107.00,94.46 L109.00,94.46 L111.00,94.46 L113.00,94.46 L115.00,94.46 L117.00,94.46 L119.00,94.46 L121.00,94.46 L123.00,94.46 L125.00,94.46 L127.00,94.47 L129.00,94.47 L131.00,94.48 L133.00,94.50 L135.00,94.52 L137.01,94.54 L139.02,94.57 L141.05,94.60 L143.08,94.64 L145.11,94.68 L147.14,94.72 L149.17,94.76 L151.20,94.80 L153.22,94.85 L155.22,94.89 L157.22,94.94 L159.19,94.98 L161.15,95.03 L163.09,95.07 L165.00,95.11 L167.21,95.15 L169.46,95.20 L171.72,95.25 L173.99,95.30 L176.24,95.35 L178.47,95.39 L180.65,95.44 L182.77,95.49 L184.82,95.53 L186.79,95.57 L188.65,95.61 L190.39,95.64 L192.00,95.67 L195.13,95.72 L197.85,95.75 L200.19,95.77 L202.15,95.78 L203.75,95.79 L205.00,95.80 L215.50,95.80" stroke="#E85060" stroke-width="1.0" fill="none" stroke-opacity="0.9"/>
<path d="M46.50,95.26 L47.65,95.26 L49.06,95.26 L50.69,95.26 L52.52,95.26 L54.51,95.26 L56.64,95.26 L58.88,95.27 L61.19,95.27 L63.54,95.27 L65.92,95.27 L68.28,95.27 L70.60,95.28 L72.85,95.28 L75.00,95.28 L76.96,95.28 L78.92,95.28 L80.90,95.28 L82.89,95.28 L84.89,95.28 L86.89,95.28 L88.90,95.29 L90.91,95.29 L92.93,95.29 L94.94,95.29 L96.96,95.29 L98.98,95.29 L100.99,95.30 L103.00,95.30 L105.00,95.31 L107.00,95.31 L109.00,95.32 L111.00,95.32 L113.00,95.33 L115.00,95.34 L117.00,95.35 L119.00,95.36 L121.00,95.37 L123.00,95.38 L125.00,95.39 L127.00,95.40 L129.00,95.41 L131.00,95.42 L133.00,95.43 L135.00,95.44 L137.01,95.46 L139.02,95.47 L141.05,95.49 L143.08,95.50 L145.11,95.52 L147.14,95.54 L149.17,95.55 L151.20,95.57 L153.22,95.59 L155.22,95.60 L157.22,95.62 L159.19,95.64 L161.15,95.65 L163.09,95.67 L165.00,95.68 L167.21,95.69 L169.46,95.70 L171.72,95.72 L173.99,95.73 L176.24,95.74 L178.47,95.75 L180.65,95.76 L182.77,95.77 L184.82,95.77 L186.79,95.78 L188.65,95.79 L190.39,95.79 L192.00,95.80 L195.13,95.81 L197.85,95.81 L200.19,95.81 L202.15,95.80 L203.75,95.80 L205.00,95.80 L215.50,95.80" stroke="#60B040" stroke-width="1.0" fill="none" stroke-opacity="0.9"/>
<path d="M46.50,96.16 L47.65,96.16 L49.06,96.16 L50.69,96.16 L52.52,96.16 L54.51,96.16 L56.64,96.16 L58.88,96.16 L61.19,96.16 L63.54,96.15 L65.92,96.15 L68.28,96.15 L70.60,96.15 L72.85,96.15 L75.00,96.15 L76.96,96.15 L78.92,96.15 L80.90,96.15 L82.89,96.15 L84.89,96.14 L86.89,96.14 L88.90,96.14 L90.91,96.14 L92.93,96.14 L94.94,96.14 L96.96,96.14 L98.98,96.14 L100.99,96.14 L103.00,96.13 L105.00,96.13 L107.00,96.13 L109.00,96.13 L111.00,96.13 L113.00,96.13 L115.00,96.13 L117.00,96.13 L119.00,96.13 L121.00,96.13 L123.00,96.13 L125.00,96.12 L127.00,96.12 L129.00,96.12 L131.00,96.11 L133.00,96.10 L135.00,96.10 L137.01,96.09 L139.02,96.07 L141.05,96.06 L143.08,96.05 L145.11,96.03 L147.14,96.01 L149.17,96.00 L151.20,95.98 L153.22,95.96 L155.22,95.95 L157.22,95.93 L159.19,95.91 L161.15,95.90 L163.09,95.89 L165.00,95.88 L167.21,95.87 L169.46,95.86 L171.72,95.85 L173.99,95.84 L176.24,95.83 L178.47,95.83 L180.65,95.82 L182.77,95.82 L184.82,95.81 L186.79,95.81 L188.65,95.81 L190.39,95.80 L192.00,95.80 L195.13,95.80 L197.85,95.79 L200.19,95.80 L202.15,95.80 L203.75,95.80 L205.00,95.80 L215.50,95.80" stroke="#A070E0" stroke-width="1.0" fill="none" stroke-opacity="0.9"/>
<path d="M46.50,97.25 L47.65,97.25 L49.06,97.24 L50.69,97.24 L52.52,97.23 L54.51,97.23 L56.64,97.22 L58.88,97.22 L61.19,97.21 L63.54,97.20 L65.92,97.19 L68.28,97.18 L70.60,97.17 L72.85,97.16 L75.00,97.14 L76.96,97.13 L78.92,97.12 L80.90,97.10 L82.89,97.09 L84.89,97.07 L86.89,97.05 L88.90,97.03 L90.91,97.02 L92.93,97.00 L94.94,96.97 L96.96,96.95 L98.98,96.93 L100.99,96.91 L103.00,96.88 L105.00,96.86 L107.00,96.83 L109.00,96.80 L111.00,96.77 L113.00,96.74 L115.00,96.71 L117.00,96.68 L119.00,96.64 L121.00,96.61 L123.00,96.57 L125.00,96.54 L127.00,96.50 L129.00,96.47 L131.00,96.44 L133.00,96.41 L135.00,96.38 L137.01,96.35 L139.02,96.32 L141.05,96.29 L143.08,96.26 L145.11,96.24 L147.14,96.21 L149.17,96.18 L151.20,96.16 L153.22,96.13 L155.22,96.11 L157.22,96.08 L159.19,96.06 L161.15,96.04 L163.09,96.02 L165.00,96.00 L167.21,95.97 L169.46,95.95 L171.72,95.93 L173.99,95.92 L176.24,95.90 L178.47,95.88 L180.65,95.87 L182.77,95.85 L184.82,95.84 L186.79,95.83 L188.65,95.82 L190.39,95.81 L192.00,95.80 L195.13,95.79 L197.85,95.79 L200.19,95.79 L202.15,95.79 L203.75,95.80 L205.00,95.80 L215.50,95.80" stroke="#E0A040" stroke-width="1.0" fill="none" stroke-opacity="0.9"/>
<path d="M46.50,98.34 L47.65,98.33 L49.06,98.33 L50.69,98.32 L52.52,98.31 L54.51,98.30 L56.64,98.28 L58.88,98.27 L61.19,98.26 L63.54,98.24 L65.92,98.23 L68.28,98.21 L70.60,98.20 L72.85,98.18 L75.00,98.16 L76.96,98.14 L78.92,98.13 L80.90,98.11 L82.89,98.09 L84.89,98.08 L86.89,98.06 L88.90,98.04 L90.91,98.02 L92.93,98.00 L94.94,97.97 L96.96,97.95 L98.98,97.93 L100.99,97.90 L103.00,97.87 L105.00,97.84 L107.00,97.81 L109.00,97.78 L111.00,97.74 L113.00,97.70 L115.00,97.66 L117.00,97.62 L119.00,97.58 L121.00,97.54 L123.00,97.50 L125.00,97.46 L127.00,97.41 L129.00,97.37 L131.00,97.33 L133.00,97.28 L135.00,97.24 L137.01,97.20 L139.02,97.16 L141.05,97.12 L143.08,97.07 L145.11,97.03 L147.14,96.99 L149.17,96.94 L151.20,96.90 L153.22,96.86 L155.22,96.81 L157.22,96.77 L159.19,96.72 L161.15,96.68 L163.09,96.63 L165.00,96.58 L167.21,96.53 L169.46,96.47 L171.72,96.40 L173.99,96.34 L176.24,96.27 L178.47,96.20 L180.65,96.14 L182.77,96.08 L184.82,96.02 L186.79,95.96 L188.65,95.91 L190.39,95.87 L192.00,95.84 L195.13,95.79 L197.85,95.77 L200.19,95.77 L202.15,95.78 L203.75,95.80 L205.00,95.80 L215.50,95.80" stroke="#30B0E0" stroke-width="1.0" fill="none" stroke-opacity="0.9"/>
<path d="M46.50,99.43 L47.65,99.42 L49.06,99.42 L50.69,99.41 L52.52,99.40 L54.51,99.39 L56.64,99.38 L58.88,99.36 L61.19,99.35 L63.54,99.34 L65.92,99.33 L68.28,99.31 L70.60,99.30 L72.85,99.29 L75.00,99.28 L76.96,99.27 L78.92,99.26 L80.90,99.25 L82.89,99.25 L84.89,99.24 L86.89,99.23 L88.90,99.22 L90.91,99.22 L92.93,99.21 L94.94,99.20 L96.96,99.19 L98.98,99.17 L100.99,99.16 L103.00,99.14 L105.00,99.12 L107.00,99.10 L109.00,99.08 L111.00,99.06 L113.00,99.04 L115.00,99.02 L117.00,99.00 L119.00,98.97 L121.00,98.95 L123.00,98.92 L125.00,98.88 L127.00,98.84 L129.00,98.80 L131.00,98.75 L133.00,98.69 L135.00,98.63 L137.01,98.56 L139.02,98.47 L141.05,98.38 L143.08,98.28 L145.11,98.18 L147.14,98.07 L149.17,97.96 L151.20,97.84 L153.22,97.73 L155.22,97.61 L157.22,97.50 L159.19,97.39 L161.15,97.29 L163.09,97.19 L165.00,97.10 L167.21,96.99 L169.46,96.89 L171.72,96.79 L173.99,96.70 L176.24,96.60 L178.47,96.51 L180.65,96.42 L182.77,96.34 L184.82,96.26 L186.79,96.18 L188.65,96.11 L190.39,96.05 L192.00,96.00 L195.13,95.91 L197.85,95.86 L200.19,95.83 L202.15,95.82 L203.75,95.81 L205.00,95.80 L215.50,95.80" stroke="#C07050" stroke-width="1.0" fill="none" stroke-opacity="0.9"/>
<path d="M46.50,100.70 L47.65,100.69 L49.06,100.68 L50.69,100.67 L52.52,100.66 L54.51,100.65 L56.64,100.64 L58.88,100.62 L61.19,100.61 L63.54,100.60 L65.92,100.58 L68.28,100.57 L70.60,100.55 L72.85,100.54 L75.00,100.52 L76.96,100.51 L78.92,100.50 L80.90,100.49 L82.89,100.48 L84.89,100.46 L86.89,100.45 L88.90,100.44 L90.91,100.43 L92.93,100.41 L94.94,100.40 L96.96,100.39 L98.98,100.38 L100.99,100.36 L103.00,100.35 L105.00,100.34 L107.00,100.33 L109.00,100.33 L111.00,100.34 L113.00,100.36 L115.00,100.37 L117.00,100.39 L119.00,100.40 L121.00,100.41 L123.00,100.41 L125.00,100.40 L127.00,100.38 L129.00,100.35 L131.00,100.30 L133.00,100.24 L135.00,100.16 L137.01,100.05 L139.02,99.92 L141.05,99.76 L143.08,99.60 L145.11,99.41 L147.14,99.22 L149.17,99.02 L151.20,98.81 L153.22,98.60 L155.22,98.40 L157.22,98.19 L159.19,98.00 L161.15,97.81 L163.09,97.64 L165.00,97.49 L167.21,97.32 L169.46,97.16 L171.72,97.00 L173.99,96.84 L176.24,96.69 L178.47,96.55 L180.65,96.41 L182.77,96.28 L184.82,96.16 L186.79,96.05 L188.65,95.96 L190.39,95.87 L192.00,95.80 L195.13,95.70 L197.85,95.67 L200.19,95.69 L202.15,95.74 L203.75,95.78 L205.00,95.80 L215.50,95.80" stroke="#30B070" stroke-width="1.0" fill="none" stroke-opacity="0.9"/>
<path d="M46.50,102.33 L47.65,102.32 L49.06,102.31 L50.69,102.29 L52.52,102.27 L54.51,102.25 L56.64,102.23 L58.88,102.21 L61.19,102.18 L63.54,102.16 L65.92,102.14 L68.28,102.11 L70.60,102.09 L72.85,102.07 L75.00,102.04 L76.96,102.03 L78.92,102.01 L80.90,102.00 L82.89,101.99 L84.89,101.98 L86.89,101.97 L88.90,101.96 L90.91,101.94 L92.93,101.93 L94.94,101.91 L96.96,101.89 L98.98,101.86 L100.99,101.83 L103.00,101.79 L105.00,101.74 L107.00,101.69 L109.00,101.63 L111.00,101.57 L113.00,101.51 L115.00,101.45 L117.00,101.38 L119.00,101.30 L121.00,101.22 L123.00,101.14 L125.00,101.05 L127.00,100.95 L129.00,100.85 L131.00,100.74 L133.00,100.62 L135.00,100.50 L137.01,100.36 L139.02,100.22 L141.05,100.06 L143.08,99.89 L145.11,99.71 L147.14,99.53 L149.17,99.34 L151.20,99.15 L153.22,98.96 L155.22,98.77 L157.22,98.58 L159.19,98.40 L161.15,98.22 L163.09,98.06 L165.00,97.90 L167.21,97.72 L169.46,97.54 L171.72,97.37 L173.99,97.19 L176.24,97.02 L178.47,96.85 L180.65,96.69 L182.77,96.54 L184.82,96.39 L186.79,96.26 L188.65,96.14 L190.39,96.04 L192.00,95.95 L195.13,95.82 L197.85,95.76 L200.19,95.75 L202.15,95.77 L203.75,95.80 L205.00,95.80 L215.50,95.80" stroke="#E870C8" stroke-width="1.0" fill="none" stroke-opacity="0.9"/>
<path d="M46.50,103.97 L47.65,103.96 L49.06,103.94 L50.69,103.92 L52.52,103.90 L54.51,103.88 L56.64,103.86 L58.88,103.84 L61.19,103.81 L63.54,103.79 L65.92,103.76 L68.28,103.74 L70.60,103.71 L72.85,103.69 L75.00,103.67 L76.96,103.65 L78.92,103.63 L80.90,103.61 L82.89,103.58 L84.89,103.56 L86.89,103.54 L88.90,103.52 L90.91,103.50 L92.93,103.48 L94.94,103.46 L96.96,103.44 L98.98,103.42 L100.99,103.39 L103.00,103.37 L105.00,103.35 L107.00,103.34 L109.00,103.33 L111.00,103.34 L113.00,103.34 L115.00,103.35 L117.00,103.37 L119.00,103.37 L121.00,103.38 L123.00,103.37 L125.00,103.36 L127.00,103.33 L129.00,103.29 L131.00,103.22 L133.00,103.14 L135.00,103.04 L137.01,102.90 L139.02,102.75 L141.05,102.57 L143.08,102.38 L145.11,102.16 L147.14,101.94 L149.17,101.71 L151.20,101.46 L153.22,101.22 L155.22,100.97 L157.22,100.72 L159.19,100.48 L161.15,100.24 L163.09,100.02 L165.00,99.80 L167.21,99.56 L169.46,99.31 L171.72,99.06 L173.99,98.81 L176.24,98.56 L178.47,98.31 L180.65,98.06 L182.77,97.82 L184.82,97.60 L186.79,97.38 L188.65,97.18 L190.39,97.00 L192.00,96.84 L195.13,96.54 L197.85,96.31 L200.19,96.13 L202.15,96.00 L203.75,95.89 L205.00,95.80 L215.50,95.80" stroke="#D8B030" stroke-width="1.0" fill="none" stroke-opacity="0.9"/>
<path d="M46.50,105.24 L47.65,105.22 L49.06,105.20 L50.69,105.18 L52.52,105.15 L54.51,105.13 L56.64,105.10 L58.88,105.07 L61.19,105.03 L63.54,105.00 L65.92,104.97 L68.28,104.94 L70.60,104.90 L72.85,104.87 L75.00,104.84 L76.96,104.82 L78.92,104.80 L80.90,104.78 L82.89,104.77 L84.89,104.75 L86.89,104.74 L88.90,104.73 L90.91,104.71 L92.93,104.69 L94.94,104.66 L96.96,104.63 L98.98,104.59 L100.99,104.55 L103.00,104.49 L105.00,104.43 L107.00,104.36 L109.00,104.29 L111.00,104.22 L113.00,104.15 L115.00,104.08 L117.00,104.00 L119.00,103.91 L121.00,103.81 L123.00,103.70 L125.00,103.58 L127.00,103.44 L129.00,103.28 L131.00,103.11 L133.00,102.91 L135.00,102.69 L137.01,102.44 L139.02,102.15 L141.05,101.82 L143.08,101.46 L145.11,101.09 L147.14,100.69 L149.17,100.29 L151.20,99.89 L153.22,99.48 L155.22,99.09 L157.22,98.72 L159.19,98.36 L161.15,98.03 L163.09,97.74 L165.00,97.49 L167.21,97.24 L169.46,97.02 L171.72,96.83 L173.99,96.66 L176.24,96.51 L178.47,96.38 L180.65,96.27 L182.77,96.17 L184.82,96.08 L186.79,96.00 L188.65,95.93 L190.39,95.86 L192.00,95.80 L195.13,95.70 L197.85,95.67 L200.19,95.69 L202.15,95.74 L203.75,95.78 L205.00,95.80 L215.50,95.80" stroke="#6A8CE8" stroke-width="1.0" fill="none" stroke-opacity="0.9"/>
<path d="M46.50,127.93 L47.59,127.87 L48.84,127.81 L50.24,127.75 L51.77,127.69 L53.43,127.63 L55.21,127.56 L57.10,127.49 L59.08,127.41 L61.15,127.33 L63.30,127.25 L65.51,127.17 L67.78,127.08 L70.09,126.98 L72.44,126.89 L74.81,126.79 L77.20,126.68 L79.60,126.57 L81.99,126.45 L84.36,126.33 L86.71,126.21 L89.02,126.08 L91.29,125.94 L93.50,125.80 L95.64,125.66 L97.71,125.50 L99.69,125.35 L101.57,125.18 L103.34,125.02 L105.00,124.84 L107.65,124.53 L110.16,124.20 L112.56,123.87 L114.83,123.52 L117.01,123.15 L119.09,122.77 L121.09,122.37 L123.03,121.96 L124.90,121.54 L126.72,121.10 L128.50,120.65 L130.26,120.18 L132.00,119.69 L133.73,119.19 L135.47,118.67 L137.22,118.13 L139.00,117.58 L141.33,116.80 L143.64,115.93 L145.91,115.00 L148.15,114.02 L150.35,113.00 L152.50,111.97 L154.61,110.94 L156.66,109.93 L158.66,108.96 L160.60,108.04 L162.47,107.19 L164.27,106.43 L166.00,105.78 L168.57,104.94 L170.84,104.32 L172.89,103.86 L174.81,103.51 L176.70,103.22 L178.63,102.93 L180.70,102.59 L183.00,102.15 L184.86,101.76 L186.85,101.35 L188.95,100.91 L191.12,100.45 L193.31,100.00 L195.50,99.54 L197.64,99.10 L199.69,98.68 L201.63,98.29 L203.41,97.93 L205.00,97.61 L208.00,97.05 L210.53,96.61 L212.61,96.26 L214.26,96.00 L215.50,95.80" stroke="#F08A50" stroke-width="1.0" fill="none"/>
<path d="M46.50,22.30 L47.61,22.46 L48.91,22.64 L50.39,22.82 L52.02,23.03 L53.80,23.24 L55.71,23.47 L57.73,23.72 L59.85,23.97 L62.05,24.24 L64.32,24.53 L66.64,24.82 L69.00,25.13 L71.37,25.45 L73.76,25.79 L76.14,26.14 L78.49,26.50 L80.80,26.88 L83.06,27.27 L85.25,27.67 L87.36,28.08 L89.36,28.51 L91.24,28.95 L93.00,29.40 L95.53,30.13 L97.96,30.90 L100.29,31.71 L102.54,32.56 L104.71,33.44 L106.82,34.36 L108.86,35.30 L110.85,36.27 L112.80,37.25 L114.71,38.26 L116.59,39.27 L118.45,40.30 L120.30,41.33 L122.15,42.37 L124.00,43.40 L126.30,44.71 L128.55,46.06 L130.76,47.44 L132.93,48.84 L135.05,50.27 L137.12,51.71 L139.16,53.16 L141.15,54.61 L143.10,56.07 L145.01,57.53 L146.88,58.97 L148.70,60.40 L151.07,62.30 L153.38,64.22 L155.61,66.15 L157.77,68.08 L159.86,70.00 L161.85,71.91 L163.76,73.81 L165.58,75.67 L167.30,77.50 L170.17,80.90 L172.76,84.41 L175.07,87.77 L177.08,90.72 L178.80,93.00 L180.24,95.52 L183.00,96.10 L184.41,96.22 L186.21,96.29 L188.31,96.32 L190.62,96.33 L193.04,96.31 L195.48,96.27 L197.87,96.23 L200.11,96.18 L202.10,96.14 L203.76,96.11 L205.00,96.10" stroke="#6A8CE8" stroke-width="1.1" fill="none"/>
<rect x="37.80" y="16.60" width="185.80" height="139.10" stroke="#666" stroke-width="1.2" fill="none"/>
<line x1="35.30" y1="23.20" x2="37.80" y2="23.20" stroke="#444" stroke-width="1"/>
<text x="33.50" y="25.50" font-size="6.6" text-anchor="end" fill="#111">4</text>
<line x1="35.30" y1="59.50" x2="37.80" y2="59.50" stroke="#444" stroke-width="1"/>
<text x="33.50" y="61.80" font-size="6.6" text-anchor="end" fill="#111">2</text>
<line x1="35.30" y1="95.80" x2="37.80" y2="95.80" stroke="#444" stroke-width="1"/>
<text x="33.50" y="98.10" font-size="6.6" text-anchor="end" fill="#111">0</text>
<line x1="35.30" y1="132.10" x2="37.80" y2="132.10" stroke="#444" stroke-width="1"/>
<text x="33.50" y="134.40" font-size="6.6" text-anchor="end" fill="#111">-2</text>
<text x="22.60" y="85.90" font-size="6.5" text-anchor="middle" fill="#111" transform="rotate(-90 22.60 85.90)">Coefficients</text>
<text x="62.20" y="12.60" font-size="5.7" text-anchor="middle" fill="#111">59</text>
<text x="80.30" y="12.60" font-size="5.7" text-anchor="middle" fill="#111">58</text>
<text x="96.10" y="12.60" font-size="5.7" text-anchor="middle" fill="#111">58</text>
<text x="114.70" y="12.60" font-size="5.7" text-anchor="middle" fill="#111">55</text>
<text x="130.70" y="12.60" font-size="5.7" text-anchor="middle" fill="#111">51</text>
<text x="146.50" y="12.60" font-size="5.7" text-anchor="middle" fill="#111">44</text>
<text x="164.90" y="12.60" font-size="5.7" text-anchor="middle" fill="#111">32</text>
<text x="181.30" y="12.60" font-size="5.7" text-anchor="middle" fill="#111">19</text>
<text x="199.30" y="12.60" font-size="5.7" text-anchor="middle" fill="#111">5</text>
<text x="215.30" y="12.60" font-size="5.7" text-anchor="middle" fill="#111">0</text>
<line x1="52.30" y1="155.70" x2="52.30" y2="158.00" stroke="#444" stroke-width="1"/>
<text x="53.90" y="165.80" font-size="6.6" text-anchor="middle" fill="#111" transform="rotate(-45 53.90 165.80)">-8</text>
<line x1="109.40" y1="155.70" x2="109.40" y2="158.00" stroke="#444" stroke-width="1"/>
<text x="111.00" y="165.80" font-size="6.6" text-anchor="middle" fill="#111" transform="rotate(-45 111.00 165.80)">-6</text>
<line x1="166.40" y1="155.70" x2="166.40" y2="158.00" stroke="#444" stroke-width="1"/>
<text x="168.00" y="165.80" font-size="6.6" text-anchor="middle" fill="#111" transform="rotate(-45 168.00 165.80)">-4</text>
<line x1="223.40" y1="155.70" x2="223.40" y2="158.00" stroke="#444" stroke-width="1"/>
<text x="225.00" y="165.80" font-size="6.6" text-anchor="middle" fill="#111" transform="rotate(-45 225.00 165.80)">-2</text>
<line x1="49.80" y1="203.70" x2="49.80" y2="305.90" stroke="#666" stroke-width="0.7"/>
<line x1="48.70" y1="203.70" x2="50.90" y2="203.70" stroke="#555" stroke-width="0.8"/>
<line x1="48.70" y1="305.90" x2="50.90" y2="305.90" stroke="#555" stroke-width="0.8"/>
<circle cx="49.80" cy="254.80" r="0.45" fill="#888"/>
<line x1="52.47" y1="205.65" x2="52.47" y2="306.41" stroke="#666" stroke-width="0.7"/>
<line x1="51.37" y1="205.65" x2="53.57" y2="205.65" stroke="#555" stroke-width="0.8"/>
<line x1="51.37" y1="306.41" x2="53.57" y2="306.41" stroke="#555" stroke-width="0.8"/>
<circle cx="52.47" cy="256.03" r="0.45" fill="#888"/>
<line x1="55.14" y1="207.43" x2="55.14" y2="306.92" stroke="#666" stroke-width="0.7"/>
<line x1="54.04" y1="207.43" x2="56.24" y2="207.43" stroke="#555" stroke-width="0.8"/>
<line x1="54.04" y1="306.92" x2="56.24" y2="306.92" stroke="#555" stroke-width="0.8"/>
<circle cx="55.14" cy="257.18" r="0.45" fill="#888"/>
<line x1="57.81" y1="209.60" x2="57.81" y2="307.43" stroke="#666" stroke-width="0.7"/>
<line x1="56.71" y1="209.60" x2="58.91" y2="209.60" stroke="#555" stroke-width="0.8"/>
<line x1="56.71" y1="307.43" x2="58.91" y2="307.43" stroke="#555" stroke-width="0.8"/>
<circle cx="57.81" cy="258.52" r="0.45" fill="#888"/>
<line x1="60.49" y1="211.98" x2="60.49" y2="307.94" stroke="#666" stroke-width="0.7"/>
<line x1="59.39" y1="211.98" x2="61.59" y2="211.98" stroke="#555" stroke-width="0.8"/>
<line x1="59.39" y1="307.94" x2="61.59" y2="307.94" stroke="#555" stroke-width="0.8"/>
<circle cx="60.49" cy="259.96" r="0.45" fill="#888"/>
<line x1="63.16" y1="214.46" x2="63.16" y2="308.45" stroke="#666" stroke-width="0.7"/>
<line x1="62.06" y1="214.46" x2="64.26" y2="214.46" stroke="#555" stroke-width="0.8"/>
<line x1="62.06" y1="308.45" x2="64.26" y2="308.45" stroke="#555" stroke-width="0.8"/>
<circle cx="63.16" cy="261.46" r="0.45" fill="#888"/>
<line x1="65.83" y1="217.25" x2="65.83" y2="308.96" stroke="#666" stroke-width="0.7"/>
<line x1="64.73" y1="217.25" x2="66.93" y2="217.25" stroke="#555" stroke-width="0.8"/>
<line x1="64.73" y1="308.96" x2="66.93" y2="308.96" stroke="#555" stroke-width="0.8"/>
<circle cx="65.83" cy="263.10" r="0.45" fill="#888"/>
<line x1="68.50" y1="220.14" x2="68.50" y2="309.47" stroke="#666" stroke-width="0.7"/>
<line x1="67.40" y1="220.14" x2="69.60" y2="220.14" stroke="#555" stroke-width="0.8"/>
<line x1="67.40" y1="309.47" x2="69.60" y2="309.47" stroke="#555" stroke-width="0.8"/>
<circle cx="68.50" cy="264.81" r="0.45" fill="#888"/>
<line x1="71.17" y1="223.31" x2="71.17" y2="309.98" stroke="#666" stroke-width="0.7"/>
<line x1="70.07" y1="223.31" x2="72.27" y2="223.31" stroke="#555" stroke-width="0.8"/>
<line x1="70.07" y1="309.98" x2="72.27" y2="309.98" stroke="#555" stroke-width="0.8"/>
<circle cx="71.17" cy="266.65" r="0.45" fill="#888"/>
<line x1="73.84" y1="226.43" x2="73.84" y2="310.84" stroke="#666" stroke-width="0.7"/>
<line x1="72.74" y1="226.43" x2="74.94" y2="226.43" stroke="#555" stroke-width="0.8"/>
<line x1="72.74" y1="310.84" x2="74.94" y2="310.84" stroke="#555" stroke-width="0.8"/>
<circle cx="73.84" cy="268.63" r="0.45" fill="#888"/>
<line x1="76.51" y1="230.05" x2="76.51" y2="311.95" stroke="#666" stroke-width="0.7"/>
<line x1="75.41" y1="230.05" x2="77.61" y2="230.05" stroke="#555" stroke-width="0.8"/>
<line x1="75.41" y1="311.95" x2="77.61" y2="311.95" stroke="#555" stroke-width="0.8"/>
<circle cx="76.51" cy="271.00" r="0.45" fill="#888"/>
<line x1="79.19" y1="233.81" x2="79.19" y2="313.06" stroke="#666" stroke-width="0.7"/>
<line x1="78.09" y1="233.81" x2="80.29" y2="233.81" stroke="#555" stroke-width="0.8"/>
<line x1="78.09" y1="313.06" x2="80.29" y2="313.06" stroke="#555" stroke-width="0.8"/>
<circle cx="79.19" cy="273.44" r="0.45" fill="#888"/>
<line x1="81.86" y1="237.44" x2="81.86" y2="314.16" stroke="#666" stroke-width="0.7"/>
<line x1="80.76" y1="237.44" x2="82.96" y2="237.44" stroke="#555" stroke-width="0.8"/>
<line x1="80.76" y1="314.16" x2="82.96" y2="314.16" stroke="#555" stroke-width="0.8"/>
<circle cx="81.86" cy="275.80" r="0.45" fill="#888"/>
<line x1="84.53" y1="241.47" x2="84.53" y2="315.27" stroke="#666" stroke-width="0.7"/>
<line x1="83.43" y1="241.47" x2="85.63" y2="241.47" stroke="#555" stroke-width="0.8"/>
<line x1="83.43" y1="315.27" x2="85.63" y2="315.27" stroke="#555" stroke-width="0.8"/>
<circle cx="84.53" cy="278.37" r="0.45" fill="#888"/>
<line x1="87.20" y1="245.69" x2="87.20" y2="316.38" stroke="#666" stroke-width="0.7"/>
<line x1="86.10" y1="245.69" x2="88.30" y2="245.69" stroke="#555" stroke-width="0.8"/>
<line x1="86.10" y1="316.38" x2="88.30" y2="316.38" stroke="#555" stroke-width="0.8"/>
<circle cx="87.20" cy="281.04" r="0.45" fill="#888"/>
<line x1="89.87" y1="250.37" x2="89.87" y2="317.49" stroke="#666" stroke-width="0.7"/>
<line x1="88.77" y1="250.37" x2="90.97" y2="250.37" stroke="#555" stroke-width="0.8"/>
<line x1="88.77" y1="317.49" x2="90.97" y2="317.49" stroke="#555" stroke-width="0.8"/>
<circle cx="89.87" cy="283.93" r="0.45" fill="#888"/>
<line x1="92.54" y1="255.22" x2="92.54" y2="318.60" stroke="#666" stroke-width="0.7"/>
<line x1="91.44" y1="255.22" x2="93.64" y2="255.22" stroke="#555" stroke-width="0.8"/>
<line x1="91.44" y1="318.60" x2="93.64" y2="318.60" stroke="#555" stroke-width="0.8"/>
<circle cx="92.54" cy="286.91" r="0.45" fill="#888"/>
<line x1="95.21" y1="259.97" x2="95.21" y2="320.22" stroke="#666" stroke-width="0.7"/>
<line x1="94.11" y1="259.97" x2="96.31" y2="259.97" stroke="#555" stroke-width="0.8"/>
<line x1="94.11" y1="320.22" x2="96.31" y2="320.22" stroke="#555" stroke-width="0.8"/>
<circle cx="95.21" cy="290.09" r="0.45" fill="#888"/>
<line x1="97.89" y1="265.76" x2="97.89" y2="322.47" stroke="#666" stroke-width="0.7"/>
<line x1="96.79" y1="265.76" x2="98.99" y2="265.76" stroke="#555" stroke-width="0.8"/>
<line x1="96.79" y1="322.47" x2="98.99" y2="322.47" stroke="#555" stroke-width="0.8"/>
<circle cx="97.89" cy="294.11" r="0.45" fill="#888"/>
<line x1="100.56" y1="272.40" x2="100.56" y2="324.72" stroke="#666" stroke-width="0.7"/>
<line x1="99.46" y1="272.40" x2="101.66" y2="272.40" stroke="#555" stroke-width="0.8"/>
<line x1="99.46" y1="324.72" x2="101.66" y2="324.72" stroke="#555" stroke-width="0.8"/>
<circle cx="100.56" cy="298.56" r="0.45" fill="#888"/>
<line x1="103.23" y1="279.05" x2="103.23" y2="326.72" stroke="#666" stroke-width="0.7"/>
<line x1="102.13" y1="279.05" x2="104.33" y2="279.05" stroke="#555" stroke-width="0.8"/>
<line x1="102.13" y1="326.72" x2="104.33" y2="326.72" stroke="#555" stroke-width="0.8"/>
<circle cx="103.23" cy="302.89" r="0.45" fill="#888"/>
<line x1="105.90" y1="285.57" x2="105.90" y2="328.35" stroke="#666" stroke-width="0.7"/>
<line x1="104.80" y1="285.57" x2="107.00" y2="285.57" stroke="#555" stroke-width="0.8"/>
<line x1="104.80" y1="328.35" x2="107.00" y2="328.35" stroke="#555" stroke-width="0.8"/>
<circle cx="105.90" cy="306.96" r="0.45" fill="#888"/>
<line x1="108.57" y1="291.80" x2="108.57" y2="329.97" stroke="#666" stroke-width="0.7"/>
<line x1="107.47" y1="291.80" x2="109.67" y2="291.80" stroke="#555" stroke-width="0.8"/>
<line x1="107.47" y1="329.97" x2="109.67" y2="329.97" stroke="#555" stroke-width="0.8"/>
<circle cx="108.57" cy="310.89" r="0.45" fill="#888"/>
<line x1="111.24" y1="298.03" x2="111.24" y2="331.59" stroke="#666" stroke-width="0.7"/>
<line x1="110.14" y1="298.03" x2="112.34" y2="298.03" stroke="#555" stroke-width="0.8"/>
<line x1="110.14" y1="331.59" x2="112.34" y2="331.59" stroke="#555" stroke-width="0.8"/>
<circle cx="111.24" cy="314.81" r="0.45" fill="#888"/>
<line x1="113.91" y1="303.57" x2="113.91" y2="333.31" stroke="#666" stroke-width="0.7"/>
<line x1="112.81" y1="303.57" x2="115.01" y2="303.57" stroke="#555" stroke-width="0.8"/>
<line x1="112.81" y1="333.31" x2="115.01" y2="333.31" stroke="#555" stroke-width="0.8"/>
<circle cx="113.91" cy="318.44" r="0.45" fill="#888"/>
<line x1="116.59" y1="307.98" x2="116.59" y2="335.16" stroke="#666" stroke-width="0.7"/>
<line x1="115.49" y1="307.98" x2="117.69" y2="307.98" stroke="#555" stroke-width="0.8"/>
<line x1="115.49" y1="335.16" x2="117.69" y2="335.16" stroke="#555" stroke-width="0.8"/>
<circle cx="116.59" cy="321.57" r="0.45" fill="#888"/>
<line x1="119.26" y1="312.39" x2="119.26" y2="337.02" stroke="#666" stroke-width="0.7"/>
<line x1="118.16" y1="312.39" x2="120.36" y2="312.39" stroke="#555" stroke-width="0.8"/>
<line x1="118.16" y1="337.02" x2="120.36" y2="337.02" stroke="#555" stroke-width="0.8"/>
<circle cx="119.26" cy="324.70" r="0.45" fill="#888"/>
<line x1="121.93" y1="316.35" x2="121.93" y2="338.88" stroke="#666" stroke-width="0.7"/>
<line x1="120.83" y1="316.35" x2="123.03" y2="316.35" stroke="#555" stroke-width="0.8"/>
<line x1="120.83" y1="338.88" x2="123.03" y2="338.88" stroke="#555" stroke-width="0.8"/>
<circle cx="121.93" cy="327.61" r="0.45" fill="#888"/>
<line x1="124.60" y1="319.60" x2="124.60" y2="340.59" stroke="#666" stroke-width="0.7"/>
<line x1="123.50" y1="319.60" x2="125.70" y2="319.60" stroke="#555" stroke-width="0.8"/>
<line x1="123.50" y1="340.59" x2="125.70" y2="340.59" stroke="#555" stroke-width="0.8"/>
<circle cx="124.60" cy="330.10" r="0.45" fill="#888"/>
<line x1="127.27" y1="322.85" x2="127.27" y2="342.14" stroke="#666" stroke-width="0.7"/>
<line x1="126.17" y1="322.85" x2="128.37" y2="322.85" stroke="#555" stroke-width="0.8"/>
<line x1="126.17" y1="342.14" x2="128.37" y2="342.14" stroke="#555" stroke-width="0.8"/>
<circle cx="127.27" cy="332.49" r="0.45" fill="#888"/>
<line x1="129.94" y1="326.09" x2="129.94" y2="343.68" stroke="#666" stroke-width="0.7"/>
<line x1="128.84" y1="326.09" x2="131.04" y2="326.09" stroke="#555" stroke-width="0.8"/>
<line x1="128.84" y1="343.68" x2="131.04" y2="343.68" stroke="#555" stroke-width="0.8"/>
<circle cx="129.94" cy="334.89" r="0.45" fill="#888"/>
<line x1="132.61" y1="328.79" x2="132.61" y2="345.23" stroke="#666" stroke-width="0.7"/>
<line x1="131.51" y1="328.79" x2="133.71" y2="328.79" stroke="#555" stroke-width="0.8"/>
<line x1="131.51" y1="345.23" x2="133.71" y2="345.23" stroke="#555" stroke-width="0.8"/>
<circle cx="132.61" cy="337.01" r="0.45" fill="#888"/>
<line x1="135.29" y1="331.08" x2="135.29" y2="346.59" stroke="#666" stroke-width="0.7"/>
<line x1="134.19" y1="331.08" x2="136.39" y2="331.08" stroke="#555" stroke-width="0.8"/>
<line x1="134.19" y1="346.59" x2="136.39" y2="346.59" stroke="#555" stroke-width="0.8"/>
<circle cx="135.29" cy="338.83" r="0.45" fill="#888"/>
<line x1="137.96" y1="333.36" x2="137.96" y2="347.83" stroke="#666" stroke-width="0.7"/>
<line x1="136.86" y1="333.36" x2="139.06" y2="333.36" stroke="#555" stroke-width="0.8"/>
<line x1="136.86" y1="347.83" x2="139.06" y2="347.83" stroke="#555" stroke-width="0.8"/>
<circle cx="137.96" cy="340.59" r="0.45" fill="#888"/>
<line x1="140.63" y1="335.64" x2="140.63" y2="349.08" stroke="#666" stroke-width="0.7"/>
<line x1="139.53" y1="335.64" x2="141.73" y2="335.64" stroke="#555" stroke-width="0.8"/>
<line x1="139.53" y1="349.08" x2="141.73" y2="349.08" stroke="#555" stroke-width="0.8"/>
<circle cx="140.63" cy="342.36" r="0.45" fill="#888"/>
<line x1="143.30" y1="337.66" x2="143.30" y2="350.32" stroke="#666" stroke-width="0.7"/>
<line x1="142.20" y1="337.66" x2="144.40" y2="337.66" stroke="#555" stroke-width="0.8"/>
<line x1="142.20" y1="350.32" x2="144.40" y2="350.32" stroke="#555" stroke-width="0.8"/>
<circle cx="143.30" cy="343.99" r="0.45" fill="#888"/>
<line x1="145.97" y1="339.57" x2="145.97" y2="351.29" stroke="#666" stroke-width="0.7"/>
<line x1="144.87" y1="339.57" x2="147.07" y2="339.57" stroke="#555" stroke-width="0.8"/>
<line x1="144.87" y1="351.29" x2="147.07" y2="351.29" stroke="#555" stroke-width="0.8"/>
<circle cx="145.97" cy="345.43" r="0.45" fill="#888"/>
<line x1="148.64" y1="341.48" x2="148.64" y2="352.18" stroke="#666" stroke-width="0.7"/>
<line x1="147.54" y1="341.48" x2="149.74" y2="341.48" stroke="#555" stroke-width="0.8"/>
<line x1="147.54" y1="352.18" x2="149.74" y2="352.18" stroke="#555" stroke-width="0.8"/>
<circle cx="148.64" cy="346.83" r="0.45" fill="#888"/>
<line x1="151.31" y1="343.40" x2="151.31" y2="353.07" stroke="#666" stroke-width="0.7"/>
<line x1="150.21" y1="343.40" x2="152.41" y2="343.40" stroke="#555" stroke-width="0.8"/>
<line x1="150.21" y1="353.07" x2="152.41" y2="353.07" stroke="#555" stroke-width="0.8"/>
<circle cx="151.31" cy="348.23" r="0.45" fill="#888"/>
<line x1="153.99" y1="345.21" x2="153.99" y2="353.96" stroke="#666" stroke-width="0.7"/>
<line x1="152.89" y1="345.21" x2="155.09" y2="345.21" stroke="#555" stroke-width="0.8"/>
<line x1="152.89" y1="353.96" x2="155.09" y2="353.96" stroke="#555" stroke-width="0.8"/>
<circle cx="153.99" cy="349.59" r="0.45" fill="#888"/>
<line x1="156.66" y1="347.02" x2="156.66" y2="354.55" stroke="#666" stroke-width="0.7"/>
<line x1="155.56" y1="347.02" x2="157.76" y2="347.02" stroke="#555" stroke-width="0.8"/>
<line x1="155.56" y1="354.55" x2="157.76" y2="354.55" stroke="#555" stroke-width="0.8"/>
<circle cx="156.66" cy="350.79" r="0.45" fill="#888"/>
<line x1="159.33" y1="348.83" x2="159.33" y2="355.13" stroke="#666" stroke-width="0.7"/>
<line x1="158.23" y1="348.83" x2="160.43" y2="348.83" stroke="#555" stroke-width="0.8"/>
<line x1="158.23" y1="355.13" x2="160.43" y2="355.13" stroke="#555" stroke-width="0.8"/>
<circle cx="159.33" cy="351.98" r="0.45" fill="#888"/>
<line x1="162.00" y1="350.58" x2="162.00" y2="355.70" stroke="#666" stroke-width="0.7"/>
<line x1="160.90" y1="350.58" x2="163.10" y2="350.58" stroke="#555" stroke-width="0.8"/>
<line x1="160.90" y1="355.70" x2="163.10" y2="355.70" stroke="#555" stroke-width="0.8"/>
<circle cx="162.00" cy="353.14" r="0.45" fill="#888"/>
<line x1="164.67" y1="351.70" x2="164.67" y2="356.22" stroke="#666" stroke-width="0.7"/>
<line x1="163.57" y1="351.70" x2="165.77" y2="351.70" stroke="#555" stroke-width="0.8"/>
<line x1="163.57" y1="356.22" x2="165.77" y2="356.22" stroke="#555" stroke-width="0.8"/>
<circle cx="164.67" cy="353.96" r="0.45" fill="#888"/>
<line x1="167.34" y1="352.81" x2="167.34" y2="356.36" stroke="#666" stroke-width="0.7"/>
<line x1="166.24" y1="352.81" x2="168.44" y2="352.81" stroke="#555" stroke-width="0.8"/>
<line x1="166.24" y1="356.36" x2="168.44" y2="356.36" stroke="#555" stroke-width="0.8"/>
<circle cx="167.34" cy="354.59" r="0.45" fill="#888"/>
<line x1="170.01" y1="353.93" x2="170.01" y2="356.50" stroke="#666" stroke-width="0.7"/>
<line x1="168.91" y1="353.93" x2="171.11" y2="353.93" stroke="#555" stroke-width="0.8"/>
<line x1="168.91" y1="356.50" x2="171.11" y2="356.50" stroke="#555" stroke-width="0.8"/>
<circle cx="170.01" cy="355.21" r="0.45" fill="#888"/>
<line x1="172.69" y1="354.92" x2="172.69" y2="356.64" stroke="#666" stroke-width="0.7"/>
<line x1="171.59" y1="354.92" x2="173.79" y2="354.92" stroke="#555" stroke-width="0.8"/>
<line x1="171.59" y1="356.64" x2="173.79" y2="356.64" stroke="#555" stroke-width="0.8"/>
<circle cx="172.69" cy="355.78" r="0.45" fill="#888"/>
<line x1="175.36" y1="355.44" x2="175.36" y2="356.77" stroke="#666" stroke-width="0.7"/>
<line x1="174.26" y1="355.44" x2="176.46" y2="355.44" stroke="#555" stroke-width="0.8"/>
<line x1="174.26" y1="356.77" x2="176.46" y2="356.77" stroke="#555" stroke-width="0.8"/>
<circle cx="175.36" cy="356.11" r="0.45" fill="#888"/>
<line x1="178.03" y1="355.97" x2="178.03" y2="356.91" stroke="#666" stroke-width="0.7"/>
<line x1="176.93" y1="355.97" x2="179.13" y2="355.97" stroke="#555" stroke-width="0.8"/>
<line x1="176.93" y1="356.91" x2="179.13" y2="356.91" stroke="#555" stroke-width="0.8"/>
<circle cx="178.03" cy="356.44" r="0.45" fill="#888"/>
<line x1="180.70" y1="356.35" x2="180.70" y2="357.04" stroke="#666" stroke-width="0.7"/>
<line x1="179.60" y1="356.35" x2="181.80" y2="356.35" stroke="#555" stroke-width="0.8"/>
<line x1="179.60" y1="357.04" x2="181.80" y2="357.04" stroke="#555" stroke-width="0.8"/>
<circle cx="180.70" cy="356.70" r="0.45" fill="#888"/>
<line x1="183.37" y1="356.49" x2="183.37" y2="357.14" stroke="#666" stroke-width="0.7"/>
<line x1="182.27" y1="356.49" x2="184.47" y2="356.49" stroke="#555" stroke-width="0.8"/>
<line x1="182.27" y1="357.14" x2="184.47" y2="357.14" stroke="#555" stroke-width="0.8"/>
<circle cx="183.37" cy="356.82" r="0.45" fill="#888"/>
<line x1="186.04" y1="356.63" x2="186.04" y2="357.25" stroke="#666" stroke-width="0.7"/>
<line x1="184.94" y1="356.63" x2="187.14" y2="356.63" stroke="#555" stroke-width="0.8"/>
<line x1="184.94" y1="357.25" x2="187.14" y2="357.25" stroke="#555" stroke-width="0.8"/>
<circle cx="186.04" cy="356.94" r="0.45" fill="#888"/>
<line x1="188.71" y1="356.77" x2="188.71" y2="357.35" stroke="#666" stroke-width="0.7"/>
<line x1="187.61" y1="356.77" x2="189.81" y2="356.77" stroke="#555" stroke-width="0.8"/>
<line x1="187.61" y1="357.35" x2="189.81" y2="357.35" stroke="#555" stroke-width="0.8"/>
<circle cx="188.71" cy="357.06" r="0.45" fill="#888"/>
<line x1="191.39" y1="356.91" x2="191.39" y2="357.46" stroke="#666" stroke-width="0.7"/>
<line x1="190.29" y1="356.91" x2="192.49" y2="356.91" stroke="#555" stroke-width="0.8"/>
<line x1="190.29" y1="357.46" x2="192.49" y2="357.46" stroke="#555" stroke-width="0.8"/>
<circle cx="191.39" cy="357.18" r="0.45" fill="#888"/>
<line x1="194.06" y1="357.05" x2="194.06" y2="357.56" stroke="#666" stroke-width="0.7"/>
<line x1="192.96" y1="357.05" x2="195.16" y2="357.05" stroke="#555" stroke-width="0.8"/>
<line x1="192.96" y1="357.56" x2="195.16" y2="357.56" stroke="#555" stroke-width="0.8"/>
<circle cx="194.06" cy="357.31" r="0.45" fill="#888"/>
<line x1="196.73" y1="357.10" x2="196.73" y2="357.60" stroke="#666" stroke-width="0.7"/>
<line x1="195.63" y1="357.10" x2="197.83" y2="357.10" stroke="#555" stroke-width="0.8"/>
<line x1="195.63" y1="357.60" x2="197.83" y2="357.60" stroke="#555" stroke-width="0.8"/>
<circle cx="196.73" cy="357.35" r="0.45" fill="#888"/>
<line x1="199.40" y1="357.10" x2="199.40" y2="357.60" stroke="#666" stroke-width="0.7"/>
<line x1="198.30" y1="357.10" x2="200.50" y2="357.10" stroke="#555" stroke-width="0.8"/>
<line x1="198.30" y1="357.60" x2="200.50" y2="357.60" stroke="#555" stroke-width="0.8"/>
<circle cx="199.40" cy="357.35" r="0.45" fill="#888"/>
<line x1="202.07" y1="357.10" x2="202.07" y2="357.60" stroke="#666" stroke-width="0.7"/>
<line x1="200.97" y1="357.10" x2="203.17" y2="357.10" stroke="#555" stroke-width="0.8"/>
<line x1="200.97" y1="357.60" x2="203.17" y2="357.60" stroke="#555" stroke-width="0.8"/>
<circle cx="202.07" cy="357.35" r="0.45" fill="#888"/>
<line x1="204.74" y1="357.10" x2="204.74" y2="357.60" stroke="#666" stroke-width="0.7"/>
<line x1="203.64" y1="357.10" x2="205.84" y2="357.10" stroke="#555" stroke-width="0.8"/>
<line x1="203.64" y1="357.60" x2="205.84" y2="357.60" stroke="#555" stroke-width="0.8"/>
<circle cx="204.74" cy="357.35" r="0.45" fill="#888"/>
<line x1="207.41" y1="357.10" x2="207.41" y2="357.60" stroke="#666" stroke-width="0.7"/>
<line x1="206.31" y1="357.10" x2="208.51" y2="357.10" stroke="#555" stroke-width="0.8"/>
<line x1="206.31" y1="357.60" x2="208.51" y2="357.60" stroke="#555" stroke-width="0.8"/>
<circle cx="207.41" cy="357.35" r="0.45" fill="#888"/>
<line x1="210.09" y1="357.10" x2="210.09" y2="357.60" stroke="#666" stroke-width="0.7"/>
<line x1="208.99" y1="357.10" x2="211.19" y2="357.10" stroke="#555" stroke-width="0.8"/>
<line x1="208.99" y1="357.60" x2="211.19" y2="357.60" stroke="#555" stroke-width="0.8"/>
<circle cx="210.09" cy="357.35" r="0.45" fill="#888"/>
<line x1="212.76" y1="357.10" x2="212.76" y2="357.60" stroke="#666" stroke-width="0.7"/>
<line x1="211.66" y1="357.10" x2="213.86" y2="357.10" stroke="#555" stroke-width="0.8"/>
<line x1="211.66" y1="357.60" x2="213.86" y2="357.60" stroke="#555" stroke-width="0.8"/>
<circle cx="212.76" cy="357.35" r="0.45" fill="#888"/>
<line x1="215.43" y1="357.10" x2="215.43" y2="357.60" stroke="#666" stroke-width="0.7"/>
<line x1="214.33" y1="357.10" x2="216.53" y2="357.10" stroke="#555" stroke-width="0.8"/>
<line x1="214.33" y1="357.60" x2="216.53" y2="357.60" stroke="#555" stroke-width="0.8"/>
<circle cx="215.43" cy="357.35" r="0.45" fill="#888"/>
<line x1="218.10" y1="357.10" x2="218.10" y2="357.60" stroke="#666" stroke-width="0.7"/>
<line x1="217.00" y1="357.10" x2="219.20" y2="357.10" stroke="#555" stroke-width="0.8"/>
<line x1="217.00" y1="357.60" x2="219.20" y2="357.60" stroke="#555" stroke-width="0.8"/>
<circle cx="218.10" cy="357.35" r="0.45" fill="#888"/>
<line x1="199.30" y1="196.20" x2="199.30" y2="364.90" stroke="#E04848" stroke-width="0.7" stroke-dasharray="1,1.8" stroke-opacity="0.8"/>
<line x1="218.10" y1="196.20" x2="218.10" y2="364.90" stroke="#5858E0" stroke-width="0.7" stroke-dasharray="1,1.8" stroke-opacity="0.8"/>
<line x1="122.40" y1="216.10" x2="122.40" y2="230.70" stroke="#4040E0" stroke-width="0.8" stroke-dasharray="1,1.6"/>
<line x1="122.40" y1="230.70" x2="122.40" y2="246.90" stroke="#E03030" stroke-width="0.8" stroke-dasharray="1,1.6"/>
<text x="132.40" y="226.00" font-size="5.3" text-anchor="start" fill="#111">LogLambda_1se=-2.282</text>
<text x="132.40" y="241.00" font-size="5.3" text-anchor="start" fill="#111">LogLambda_min=-2.933</text>
<rect x="40.00" y="196.20" width="188.00" height="168.70" stroke="#808080" stroke-width="1.1" fill="none"/>
<line x1="37.70" y1="236.00" x2="40.00" y2="236.00" stroke="#444" stroke-width="1"/>
<text x="36.50" y="237.90" font-size="5.5" text-anchor="end" fill="#111">75</text>
<line x1="37.70" y1="283.30" x2="40.00" y2="283.30" stroke="#444" stroke-width="1"/>
<text x="36.50" y="285.20" font-size="5.5" text-anchor="end" fill="#111">50</text>
<line x1="37.70" y1="330.60" x2="40.00" y2="330.60" stroke="#444" stroke-width="1"/>
<text x="36.50" y="332.50" font-size="5.5" text-anchor="end" fill="#111">25</text>
<line x1="56.50" y1="364.90" x2="56.50" y2="367.20" stroke="#444" stroke-width="1"/>
<text x="56.50" y="373.50" font-size="5.5" text-anchor="middle" fill="#111">-8</text>
<line x1="112.90" y1="364.90" x2="112.90" y2="367.20" stroke="#444" stroke-width="1"/>
<text x="112.90" y="373.50" font-size="5.5" text-anchor="middle" fill="#111">-6</text>
<line x1="169.40" y1="364.90" x2="169.40" y2="367.20" stroke="#444" stroke-width="1"/>
<text x="169.40" y="373.50" font-size="5.5" text-anchor="middle" fill="#111">-4</text>
<line x1="225.80" y1="364.90" x2="225.80" y2="367.20" stroke="#444" stroke-width="1"/>
<text x="225.80" y="373.50" font-size="5.5" text-anchor="middle" fill="#111">-2</text>
<text x="133.80" y="380.20" font-size="5.5" text-anchor="middle" fill="#111">Log_Lambda</text>
<text x="27.30" y="280.60" font-size="5.5" text-anchor="middle" fill="#111" transform="rotate(-90 27.30 280.60)">CVM</text>
<text x="65.30" y="192.90" font-size="4.7" text-anchor="middle" fill="#111">59</text>
<text x="83.70" y="192.90" font-size="4.7" text-anchor="middle" fill="#111">58</text>
<text x="99.50" y="192.90" font-size="4.7" text-anchor="middle" fill="#111">58</text>
<text x="117.90" y="192.90" font-size="4.7" text-anchor="middle" fill="#111">55</text>
<text x="133.50" y="192.90" font-size="4.7" text-anchor="middle" fill="#111">51</text>
<text x="149.30" y="192.90" font-size="4.7" text-anchor="middle" fill="#111">44</text>
<text x="168.00" y="192.90" font-size="4.7" text-anchor="middle" fill="#111">32</text>
<text x="183.90" y="192.90" font-size="4.7" text-anchor="middle" fill="#111">19</text>
<text x="201.60" y="192.90" font-size="4.7" text-anchor="middle" fill="#111">5</text>
<text x="217.80" y="192.90" font-size="4.7" text-anchor="middle" fill="#111">0</text>
<text x="671.40" y="23.80" font-size="13.05" text-anchor="middle" fill="#111" font-weight="bold">COX Regression Nomogram Plot</text>
<text x="328.60" y="60.70" font-size="11.2" text-anchor="start" fill="#111" stroke="#111" stroke-width="0.18">Points</text>
<text x="328.60" y="88.30" font-size="11.2" text-anchor="start" fill="#111" stroke="#111" stroke-width="0.18">Age</text>
<text x="328.60" y="116.70" font-size="11.2" text-anchor="start" fill="#111" stroke="#111" stroke-width="0.18">NYHA classification III or IV</text>
<text x="328.60" y="145.30" font-size="11.2" text-anchor="start" fill="#111" stroke="#111" stroke-width="0.18">Residual diseased CA more than 2</text>
<text x="328.60" y="173.80" font-size="11.2" text-anchor="start" fill="#111" stroke="#111" stroke-width="0.18">LVEDD</text>
<text x="328.60" y="202.50" font-size="11.2" text-anchor="start" fill="#111" stroke="#111" stroke-width="0.18">ARNI</text>
<text x="328.60" y="230.50" font-size="11.2" text-anchor="start" fill="#111" stroke="#111" stroke-width="0.18">LVEF</text>
<text x="330.50" y="259.10" font-size="11.2" text-anchor="start" fill="#111" stroke="#111" stroke-width="0.18">Total Points</text>
<text x="328.00" y="287.60" font-size="11.2" text-anchor="start" fill="#111" stroke="#111" stroke-width="0.18">Linear Predictor</text>
<text x="328.00" y="315.30" font-size="11.2" text-anchor="start" fill="#111" stroke="#111" stroke-width="0.18">Observed Time Survival</text>
<line x1="512.40" y1="57.00" x2="938.60" y2="57.00" stroke="#222" stroke-width="1.1"/>
<line x1="512.40" y1="57.00" x2="512.40" y2="54.20" stroke="#222" stroke-width="1.1"/>
<text x="512.40" y="49.60" font-size="9.25" text-anchor="middle" fill="#111">0</text>
<line x1="523.05" y1="57.00" x2="523.05" y2="55.40" stroke="#222" stroke-width="0.9"/>
<line x1="533.71" y1="57.00" x2="533.71" y2="55.40" stroke="#222" stroke-width="0.9"/>
<line x1="544.37" y1="57.00" x2="544.37" y2="55.40" stroke="#222" stroke-width="0.9"/>
<line x1="555.02" y1="57.00" x2="555.02" y2="54.20" stroke="#222" stroke-width="1.1"/>
<text x="555.02" y="49.60" font-size="9.25" text-anchor="middle" fill="#111">10</text>
<line x1="565.67" y1="57.00" x2="565.67" y2="55.40" stroke="#222" stroke-width="0.9"/>
<line x1="576.33" y1="57.00" x2="576.33" y2="55.40" stroke="#222" stroke-width="0.9"/>
<line x1="586.99" y1="57.00" x2="586.99" y2="55.40" stroke="#222" stroke-width="0.9"/>
<line x1="597.64" y1="57.00" x2="597.64" y2="54.20" stroke="#222" stroke-width="1.1"/>
<text x="597.64" y="49.60" font-size="9.25" text-anchor="middle" fill="#111">20</text>
<line x1="608.29" y1="57.00" x2="608.29" y2="55.40" stroke="#222" stroke-width="0.9"/>
<line x1="618.95" y1="57.00" x2="618.95" y2="55.40" stroke="#222" stroke-width="0.9"/>
<line x1="629.61" y1="57.00" x2="629.61" y2="55.40" stroke="#222" stroke-width="0.9"/>
<line x1="640.26" y1="57.00" x2="640.26" y2="54.20" stroke="#222" stroke-width="1.1"/>
<text x="640.26" y="49.60" font-size="9.25" text-anchor="middle" fill="#111">30</text>
<line x1="650.91" y1="57.00" x2="650.91" y2="55.40" stroke="#222" stroke-width="0.9"/>
<line x1="661.57" y1="57.00" x2="661.57" y2="55.40" stroke="#222" stroke-width="0.9"/>
<line x1="672.22" y1="57.00" x2="672.22" y2="55.40" stroke="#222" stroke-width="0.9"/>
<line x1="682.88" y1="57.00" x2="682.88" y2="54.20" stroke="#222" stroke-width="1.1"/>
<text x="682.88" y="49.60" font-size="9.25" text-anchor="middle" fill="#111">40</text>
<line x1="693.53" y1="57.00" x2="693.53" y2="55.40" stroke="#222" stroke-width="0.9"/>
<line x1="704.19" y1="57.00" x2="704.19" y2="55.40" stroke="#222" stroke-width="0.9"/>
<line x1="714.85" y1="57.00" x2="714.85" y2="55.40" stroke="#222" stroke-width="0.9"/>
<line x1="725.50" y1="57.00" x2="725.50" y2="54.20" stroke="#222" stroke-width="1.1"/>
<text x="725.50" y="49.60" font-size="9.25" text-anchor="middle" fill="#111">50</text>
<line x1="736.15" y1="57.00" x2="736.15" y2="55.40" stroke="#222" stroke-width="0.9"/>
<line x1="746.81" y1="57.00" x2="746.81" y2="55.40" stroke="#222" stroke-width="0.9"/>
<line x1="757.46" y1="57.00" x2="757.46" y2="55.40" stroke="#222" stroke-width="0.9"/>
<line x1="768.12" y1="57.00" x2="768.12" y2="54.20" stroke="#222" stroke-width="1.1"/>
<text x="768.12" y="49.60" font-size="9.25" text-anchor="middle" fill="#111">60</text>
<line x1="778.77" y1="57.00" x2="778.77" y2="55.40" stroke="#222" stroke-width="0.9"/>
<line x1="789.43" y1="57.00" x2="789.43" y2="55.40" stroke="#222" stroke-width="0.9"/>
<line x1="800.09" y1="57.00" x2="800.09" y2="55.40" stroke="#222" stroke-width="0.9"/>
<line x1="810.74" y1="57.00" x2="810.74" y2="54.20" stroke="#222" stroke-width="1.1"/>
<text x="810.74" y="49.60" font-size="9.25" text-anchor="middle" fill="#111">70</text>
<line x1="821.39" y1="57.00" x2="821.39" y2="55.40" stroke="#222" stroke-width="0.9"/>
<line x1="832.05" y1="57.00" x2="832.05" y2="55.40" stroke="#222" stroke-width="0.9"/>
<line x1="842.70" y1="57.00" x2="842.70" y2="55.40" stroke="#222" stroke-width="0.9"/>
<line x1="853.36" y1="57.00" x2="853.36" y2="54.20" stroke="#222" stroke-width="1.1"/>
<text x="853.36" y="49.60" font-size="9.25" text-anchor="middle" fill="#111">80</text>
<line x1="864.01" y1="57.00" x2="864.01" y2="55.40" stroke="#222" stroke-width="0.9"/>
<line x1="874.67" y1="57.00" x2="874.67" y2="55.40" stroke="#222" stroke-width="0.9"/>
<line x1="885.32" y1="57.00" x2="885.32" y2="55.40" stroke="#222" stroke-width="0.9"/>
<line x1="895.98" y1="57.00" x2="895.98" y2="54.20" stroke="#222" stroke-width="1.1"/>
<text x="895.98" y="49.60" font-size="9.25" text-anchor="middle" fill="#111">90</text>
<line x1="906.63" y1="57.00" x2="906.63" y2="55.40" stroke="#222" stroke-width="0.9"/>
<line x1="917.29" y1="57.00" x2="917.29" y2="55.40" stroke="#222" stroke-width="0.9"/>
<line x1="927.94" y1="57.00" x2="927.94" y2="55.40" stroke="#222" stroke-width="0.9"/>
<line x1="938.60" y1="57.00" x2="938.60" y2="54.20" stroke="#222" stroke-width="1.1"/>
<text x="938.60" y="49.60" font-size="9.25" text-anchor="middle" fill="#111">100</text>
<line x1="512.40" y1="85.60" x2="742.70" y2="85.60" stroke="#222" stroke-width="1.1"/>
<line x1="512.40" y1="85.60" x2="512.40" y2="88.20" stroke="#222" stroke-width="1.1"/>
<text x="512.40" y="100.20" font-size="9.25" text-anchor="middle" fill="#111">30</text>
<line x1="531.59" y1="85.60" x2="531.59" y2="88.20" stroke="#222" stroke-width="1.1"/>
<text x="531.59" y="100.20" font-size="9.25" text-anchor="middle" fill="#111">35</text>
<line x1="550.78" y1="85.60" x2="550.78" y2="88.20" stroke="#222" stroke-width="1.1"/>
<text x="550.78" y="100.20" font-size="9.25" text-anchor="middle" fill="#111">40</text>
<line x1="569.98" y1="85.60" x2="569.98" y2="88.20" stroke="#222" stroke-width="1.1"/>
<text x="569.98" y="100.20" font-size="9.25" text-anchor="middle" fill="#111">45</text>
<line x1="589.17" y1="85.60" x2="589.17" y2="88.20" stroke="#222" stroke-width="1.1"/>
<text x="589.17" y="100.20" font-size="9.25" text-anchor="middle" fill="#111">50</text>
<line x1="608.36" y1="85.60" x2="608.36" y2="88.20" stroke="#222" stroke-width="1.1"/>
<text x="608.36" y="100.20" font-size="9.25" text-anchor="middle" fill="#111">55</text>
<line x1="627.55" y1="85.60" x2="627.55" y2="88.20" stroke="#222" stroke-width="1.1"/>
<text x="627.55" y="100.20" font-size="9.25" text-anchor="middle" fill="#111">60</text>
<line x1="646.74" y1="85.60" x2="646.74" y2="88.20" stroke="#222" stroke-width="1.1"/>
<text x="646.74" y="100.20" font-size="9.25" text-anchor="middle" fill="#111">65</text>
<line x1="665.93" y1="85.60" x2="665.93" y2="88.20" stroke="#222" stroke-width="1.1"/>
<text x="665.93" y="100.20" font-size="9.25" text-anchor="middle" fill="#111">70</text>
<line x1="685.12" y1="85.60" x2="685.12" y2="88.20" stroke="#222" stroke-width="1.1"/>
<text x="685.12" y="100.20" font-size="9.25" text-anchor="middle" fill="#111">75</text>
<line x1="704.32" y1="85.60" x2="704.32" y2="88.20" stroke="#222" stroke-width="1.1"/>
<text x="704.32" y="100.20" font-size="9.25" text-anchor="middle" fill="#111">80</text>
<line x1="723.51" y1="85.60" x2="723.51" y2="88.20" stroke="#222" stroke-width="1.1"/>
<text x="723.51" y="100.20" font-size="9.25" text-anchor="middle" fill="#111">85</text>
<line x1="742.70" y1="85.60" x2="742.70" y2="88.20" stroke="#222" stroke-width="1.1"/>
<text x="742.70" y="100.20" font-size="9.25" text-anchor="middle" fill="#111">90</text>
<line x1="512.40" y1="113.80" x2="625.50" y2="113.80" stroke="#222" stroke-width="1.1"/>
<line x1="512.40" y1="113.80" x2="512.40" y2="116.40" stroke="#222" stroke-width="1.1"/>
<line x1="625.50" y1="113.80" x2="625.50" y2="111.20" stroke="#222" stroke-width="1.1"/>
<text x="632.00" y="116.30" font-size="9.6" text-anchor="start" fill="#111">Yes</text>
<text x="509.30" y="128.60" font-size="9.6" text-anchor="start" fill="#111">No</text>
<line x1="512.40" y1="141.80" x2="613.30" y2="141.80" stroke="#222" stroke-width="1.1"/>
<line x1="512.40" y1="141.80" x2="512.40" y2="144.40" stroke="#222" stroke-width="1.1"/>
<line x1="613.30" y1="141.80" x2="613.30" y2="139.20" stroke="#222" stroke-width="1.1"/>
<text x="609.80" y="133.80" font-size="9.6" text-anchor="start" fill="#111">Yes</text>
<text x="509.30" y="157.00" font-size="9.6" text-anchor="start" fill="#111">No</text>
<line x1="512.40" y1="170.20" x2="938.60" y2="170.20" stroke="#222" stroke-width="1.1"/>
<line x1="512.40" y1="170.20" x2="512.40" y2="172.80" stroke="#222" stroke-width="1.1"/>
<text x="512.40" y="185.00" font-size="9.25" text-anchor="middle" fill="#111">40</text>
<line x1="551.15" y1="170.20" x2="551.15" y2="172.80" stroke="#222" stroke-width="1.1"/>
<text x="551.15" y="185.00" font-size="9.25" text-anchor="middle" fill="#111">45</text>
<line x1="589.89" y1="170.20" x2="589.89" y2="172.80" stroke="#222" stroke-width="1.1"/>
<text x="589.89" y="185.00" font-size="9.25" text-anchor="middle" fill="#111">50</text>
<line x1="628.64" y1="170.20" x2="628.64" y2="172.80" stroke="#222" stroke-width="1.1"/>
<text x="628.64" y="185.00" font-size="9.25" text-anchor="middle" fill="#111">55</text>
<line x1="667.38" y1="170.20" x2="667.38" y2="172.80" stroke="#222" stroke-width="1.1"/>
<text x="667.38" y="185.00" font-size="9.25" text-anchor="middle" fill="#111">60</text>
<line x1="706.13" y1="170.20" x2="706.13" y2="172.80" stroke="#222" stroke-width="1.1"/>
<text x="706.13" y="185.00" font-size="9.25" text-anchor="middle" fill="#111">65</text>
<line x1="744.87" y1="170.20" x2="744.87" y2="172.80" stroke="#222" stroke-width="1.1"/>
<text x="744.87" y="185.00" font-size="9.25" text-anchor="middle" fill="#111">70</text>
<line x1="783.62" y1="170.20" x2="783.62" y2="172.80" stroke="#222" stroke-width="1.1"/>
<text x="783.62" y="185.00" font-size="9.25" text-anchor="middle" fill="#111">75</text>
<line x1="822.36" y1="170.20" x2="822.36" y2="172.80" stroke="#222" stroke-width="1.1"/>
<text x="822.36" y="185.00" font-size="9.25" text-anchor="middle" fill="#111">80</text>
<line x1="861.11" y1="170.20" x2="861.11" y2="172.80" stroke="#222" stroke-width="1.1"/>
<text x="861.11" y="185.00" font-size="9.25" text-anchor="middle" fill="#111">85</text>
<line x1="899.85" y1="170.20" x2="899.85" y2="172.80" stroke="#222" stroke-width="1.1"/>
<text x="899.85" y="185.00" font-size="9.25" text-anchor="middle" fill="#111">90</text>
<line x1="938.60" y1="170.20" x2="938.60" y2="172.80" stroke="#222" stroke-width="1.1"/>
<text x="938.60" y="185.00" font-size="9.25" text-anchor="middle" fill="#111">95</text>
<line x1="512.40" y1="198.70" x2="607.50" y2="198.70" stroke="#222" stroke-width="1.1"/>
<line x1="512.40" y1="198.70" x2="512.40" y2="201.30" stroke="#222" stroke-width="1.1"/>
<line x1="607.50" y1="198.70" x2="607.50" y2="196.10" stroke="#222" stroke-width="1.1"/>
<text x="613.50" y="201.60" font-size="9.6" text-anchor="start" fill="#111">No</text>
<text x="509.30" y="213.00" font-size="9.6" text-anchor="start" fill="#111">Yes</text>
<line x1="512.40" y1="227.30" x2="564.60" y2="227.30" stroke="#222" stroke-width="1.1"/>
<line x1="512.40" y1="227.30" x2="512.40" y2="229.90" stroke="#222" stroke-width="1.1"/>
<line x1="521.10" y1="227.30" x2="521.10" y2="229.90" stroke="#222" stroke-width="1.1"/>
<line x1="529.80" y1="227.30" x2="529.80" y2="229.90" stroke="#222" stroke-width="1.1"/>
<line x1="538.50" y1="227.30" x2="538.50" y2="229.90" stroke="#222" stroke-width="1.1"/>
<line x1="547.20" y1="227.30" x2="547.20" y2="229.90" stroke="#222" stroke-width="1.1"/>
<line x1="555.90" y1="227.30" x2="555.90" y2="229.90" stroke="#222" stroke-width="1.1"/>
<line x1="564.60" y1="227.30" x2="564.60" y2="229.90" stroke="#222" stroke-width="1.1"/>
<text x="512.40" y="242.00" font-size="9.25" text-anchor="middle" fill="#111">50</text>
<text x="538.50" y="242.00" font-size="9.25" text-anchor="middle" fill="#111">35</text>
<text x="564.60" y="242.00" font-size="9.25" text-anchor="middle" fill="#111">20</text>
<line x1="512.40" y1="255.50" x2="938.60" y2="255.50" stroke="#222" stroke-width="1.1"/>
<line x1="512.40" y1="255.50" x2="512.40" y2="258.30" stroke="#222" stroke-width="1.1"/>
<text x="512.40" y="270.20" font-size="9.25" text-anchor="middle" fill="#111">0</text>
<line x1="523.05" y1="255.50" x2="523.05" y2="257.10" stroke="#222" stroke-width="0.9"/>
<line x1="533.71" y1="255.50" x2="533.71" y2="257.10" stroke="#222" stroke-width="0.9"/>
<line x1="544.37" y1="255.50" x2="544.37" y2="257.10" stroke="#222" stroke-width="0.9"/>
<line x1="555.02" y1="255.50" x2="555.02" y2="258.30" stroke="#222" stroke-width="1.1"/>
<text x="555.02" y="270.20" font-size="9.25" text-anchor="middle" fill="#111">20</text>
<line x1="565.67" y1="255.50" x2="565.67" y2="257.10" stroke="#222" stroke-width="0.9"/>
<line x1="576.33" y1="255.50" x2="576.33" y2="257.10" stroke="#222" stroke-width="0.9"/>
<line x1="586.99" y1="255.50" x2="586.99" y2="257.10" stroke="#222" stroke-width="0.9"/>
<line x1="597.64" y1="255.50" x2="597.64" y2="258.30" stroke="#222" stroke-width="1.1"/>
<text x="597.64" y="270.20" font-size="9.25" text-anchor="middle" fill="#111">40</text>
<line x1="608.29" y1="255.50" x2="608.29" y2="257.10" stroke="#222" stroke-width="0.9"/>
<line x1="618.95" y1="255.50" x2="618.95" y2="257.10" stroke="#222" stroke-width="0.9"/>
<line x1="629.61" y1="255.50" x2="629.61" y2="257.10" stroke="#222" stroke-width="0.9"/>
<line x1="640.26" y1="255.50" x2="640.26" y2="258.30" stroke="#222" stroke-width="1.1"/>
<text x="640.26" y="270.20" font-size="9.25" text-anchor="middle" fill="#111">60</text>
<line x1="650.91" y1="255.50" x2="650.91" y2="257.10" stroke="#222" stroke-width="0.9"/>
<line x1="661.57" y1="255.50" x2="661.57" y2="257.10" stroke="#222" stroke-width="0.9"/>
<line x1="672.22" y1="255.50" x2="672.22" y2="257.10" stroke="#222" stroke-width="0.9"/>
<line x1="682.88" y1="255.50" x2="682.88" y2="258.30" stroke="#222" stroke-width="1.1"/>
<text x="682.88" y="270.20" font-size="9.25" text-anchor="middle" fill="#111">80</text>
<line x1="693.53" y1="255.50" x2="693.53" y2="257.10" stroke="#222" stroke-width="0.9"/>
<line x1="704.19" y1="255.50" x2="704.19" y2="257.10" stroke="#222" stroke-width="0.9"/>
<line x1="714.85" y1="255.50" x2="714.85" y2="257.10" stroke="#222" stroke-width="0.9"/>
<line x1="725.50" y1="255.50" x2="725.50" y2="258.30" stroke="#222" stroke-width="1.1"/>
<text x="725.50" y="270.20" font-size="9.25" text-anchor="middle" fill="#111">100</text>
<line x1="736.15" y1="255.50" x2="736.15" y2="257.10" stroke="#222" stroke-width="0.9"/>
<line x1="746.81" y1="255.50" x2="746.81" y2="257.10" stroke="#222" stroke-width="0.9"/>
<line x1="757.46" y1="255.50" x2="757.46" y2="257.10" stroke="#222" stroke-width="0.9"/>
<line x1="768.12" y1="255.50" x2="768.12" y2="258.30" stroke="#222" stroke-width="1.1"/>
<text x="768.12" y="270.20" font-size="9.25" text-anchor="middle" fill="#111">120</text>
<line x1="778.77" y1="255.50" x2="778.77" y2="257.10" stroke="#222" stroke-width="0.9"/>
<line x1="789.43" y1="255.50" x2="789.43" y2="257.10" stroke="#222" stroke-width="0.9"/>
<line x1="800.09" y1="255.50" x2="800.09" y2="257.10" stroke="#222" stroke-width="0.9"/>
<line x1="810.74" y1="255.50" x2="810.74" y2="258.30" stroke="#222" stroke-width="1.1"/>
<text x="810.74" y="270.20" font-size="9.25" text-anchor="middle" fill="#111">140</text>
<line x1="821.39" y1="255.50" x2="821.39" y2="257.10" stroke="#222" stroke-width="0.9"/>
<line x1="832.05" y1="255.50" x2="832.05" y2="257.10" stroke="#222" stroke-width="0.9"/>
<line x1="842.70" y1="255.50" x2="842.70" y2="257.10" stroke="#222" stroke-width="0.9"/>
<line x1="853.36" y1="255.50" x2="853.36" y2="258.30" stroke="#222" stroke-width="1.1"/>
<text x="853.36" y="270.20" font-size="9.25" text-anchor="middle" fill="#111">160</text>
<line x1="864.01" y1="255.50" x2="864.01" y2="257.10" stroke="#222" stroke-width="0.9"/>
<line x1="874.67" y1="255.50" x2="874.67" y2="257.10" stroke="#222" stroke-width="0.9"/>
<line x1="885.32" y1="255.50" x2="885.32" y2="257.10" stroke="#222" stroke-width="0.9"/>
<line x1="895.98" y1="255.50" x2="895.98" y2="258.30" stroke="#222" stroke-width="1.1"/>
<text x="895.98" y="270.20" font-size="9.25" text-anchor="middle" fill="#111">180</text>
<line x1="906.63" y1="255.50" x2="906.63" y2="257.10" stroke="#222" stroke-width="0.9"/>
<line x1="917.29" y1="255.50" x2="917.29" y2="257.10" stroke="#222" stroke-width="0.9"/>
<line x1="927.94" y1="255.50" x2="927.94" y2="257.10" stroke="#222" stroke-width="0.9"/>
<line x1="938.60" y1="255.50" x2="938.60" y2="258.30" stroke="#222" stroke-width="1.1"/>
<text x="938.60" y="270.20" font-size="9.25" text-anchor="middle" fill="#111">200</text>
<line x1="525.60" y1="283.30" x2="902.30" y2="283.30" stroke="#222" stroke-width="1.1"/>
<line x1="525.60" y1="283.30" x2="525.60" y2="286.10" stroke="#222" stroke-width="1.1"/>
<text x="525.60" y="298.20" font-size="9.25" text-anchor="middle" fill="#111">−2.5</text>
<line x1="544.44" y1="283.30" x2="544.44" y2="284.90" stroke="#222" stroke-width="0.9"/>
<line x1="563.27" y1="283.30" x2="563.27" y2="286.10" stroke="#222" stroke-width="1.1"/>
<text x="563.27" y="298.20" font-size="9.25" text-anchor="middle" fill="#111">−2</text>
<line x1="582.11" y1="283.30" x2="582.11" y2="284.90" stroke="#222" stroke-width="0.9"/>
<line x1="600.94" y1="283.30" x2="600.94" y2="286.10" stroke="#222" stroke-width="1.1"/>
<text x="600.94" y="298.20" font-size="9.25" text-anchor="middle" fill="#111">−1.5</text>
<line x1="619.77" y1="283.30" x2="619.77" y2="284.90" stroke="#222" stroke-width="0.9"/>
<line x1="638.61" y1="283.30" x2="638.61" y2="286.10" stroke="#222" stroke-width="1.1"/>
<text x="638.61" y="298.20" font-size="9.25" text-anchor="middle" fill="#111">−1</text>
<line x1="657.44" y1="283.30" x2="657.44" y2="284.90" stroke="#222" stroke-width="0.9"/>
<line x1="676.28" y1="283.30" x2="676.28" y2="286.10" stroke="#222" stroke-width="1.1"/>
<text x="676.28" y="298.20" font-size="9.25" text-anchor="middle" fill="#111">−0.5</text>
<line x1="695.12" y1="283.30" x2="695.12" y2="284.90" stroke="#222" stroke-width="0.9"/>
<line x1="713.95" y1="283.30" x2="713.95" y2="286.10" stroke="#222" stroke-width="1.1"/>
<text x="713.95" y="298.20" font-size="9.25" text-anchor="middle" fill="#111">0</text>
<line x1="732.78" y1="283.30" x2="732.78" y2="284.90" stroke="#222" stroke-width="0.9"/>
<line x1="751.62" y1="283.30" x2="751.62" y2="286.10" stroke="#222" stroke-width="1.1"/>
<text x="751.62" y="298.20" font-size="9.25" text-anchor="middle" fill="#111">0.5</text>
<line x1="770.45" y1="283.30" x2="770.45" y2="284.90" stroke="#222" stroke-width="0.9"/>
<line x1="789.29" y1="283.30" x2="789.29" y2="286.10" stroke="#222" stroke-width="1.1"/>
<text x="789.29" y="298.20" font-size="9.25" text-anchor="middle" fill="#111">1</text>
<line x1="808.12" y1="283.30" x2="808.12" y2="284.90" stroke="#222" stroke-width="0.9"/>
<line x1="826.96" y1="283.30" x2="826.96" y2="286.10" stroke="#222" stroke-width="1.1"/>
<text x="826.96" y="298.20" font-size="9.25" text-anchor="middle" fill="#111">1.5</text>
<line x1="845.79" y1="283.30" x2="845.79" y2="284.90" stroke="#222" stroke-width="0.9"/>
<line x1="864.63" y1="283.30" x2="864.63" y2="286.10" stroke="#222" stroke-width="1.1"/>
<text x="864.63" y="298.20" font-size="9.25" text-anchor="middle" fill="#111">2</text>
<line x1="883.46" y1="283.30" x2="883.46" y2="284.90" stroke="#222" stroke-width="0.9"/>
<line x1="902.30" y1="283.30" x2="902.30" y2="286.10" stroke="#222" stroke-width="1.1"/>
<text x="902.30" y="298.20" font-size="9.25" text-anchor="middle" fill="#111">2.5</text>
<line x1="554.30" y1="311.90" x2="841.00" y2="311.90" stroke="#222" stroke-width="1.1"/>
<line x1="554.30" y1="311.90" x2="554.30" y2="309.10" stroke="#222" stroke-width="1.1"/>
<text x="554.30" y="326.60" font-size="9.25" text-anchor="middle" fill="#111">0.95</text>
<line x1="700.30" y1="311.90" x2="700.30" y2="309.10" stroke="#222" stroke-width="1.1"/>
<text x="700.30" y="326.60" font-size="9.25" text-anchor="middle" fill="#111">0.7</text>
<line x1="750.70" y1="311.90" x2="750.70" y2="309.10" stroke="#222" stroke-width="1.1"/>
<text x="750.70" y="326.60" font-size="9.25" text-anchor="middle" fill="#111">0.5</text>
<line x1="792.00" y1="311.90" x2="792.00" y2="309.10" stroke="#222" stroke-width="1.1"/>
<text x="792.00" y="326.60" font-size="9.25" text-anchor="middle" fill="#111">0.3</text>
<line x1="841.00" y1="311.90" x2="841.00" y2="309.10" stroke="#222" stroke-width="1.1"/>
<text x="841.00" y="326.60" font-size="9.25" text-anchor="middle" fill="#111">0.1</text>
<path d="M52.80,544.40 L56.20,541.60 L57.60,529.20 L59.00,511.30 L59.60,497.50 L61.00,483.80 L63.10,470.00 L66.50,458.60 L72.00,447.60 L78.90,439.30 L88.60,432.40 L98.20,422.80 L107.80,420.00 L118.80,417.30 L125.00,415.90 L138.80,409.70 L166.30,403.60 L199.40,403.20 L199.40,403.20 L196.60,403.50 L189.70,406.30 L180.10,414.50 L166.30,425.50 L152.50,432.40 L138.80,440.70 L125.00,450.30 L116.10,451.70 L105.10,455.80 L95.40,464.10 L87.20,479.60 L78.90,485.10 L74.80,489.30 L70.70,501.70 L66.50,514.10 L61.00,525.00 L56.90,538.80 L55.00,544.50 Z" stroke="none" stroke-width="1" fill="#D6F1F5"/>
<line x1="51.70" y1="549.80" x2="203.00" y2="398.60" stroke="#A8A8A8" stroke-width="0.8"/>
<path d="M56.20,544.40 L56.20,532.70 L56.90,532.70 L56.90,523.70 L58.30,523.00 L59.00,514.10 L60.20,510.00 L60.70,507.20 L61.70,505.50 L65.10,505.50 L65.40,494.80 L66.20,490.70 L67.20,487.90 L67.90,483.10 L68.60,481.00 L69.30,481.00 L69.30,472.40 L73.40,472.40 L73.40,466.80 L76.90,464.10 L78.50,464.10 L80.30,460.70 L84.40,460.70 L84.40,457.50 L93.40,457.50 L93.80,451.70 L94.80,448.30 L96.10,444.80 L97.50,442.80 L100.20,442.80 L100.90,439.30 L103.00,436.60 L112.60,436.60 L112.60,433.50 L125.70,433.50 L126.40,430.40 L133.30,430.40 L134.00,427.60 L140.10,427.60 L140.80,424.20 L142.20,422.10 L143.60,418.70 L169.10,418.70 L169.80,411.80 L171.10,409.70 L176.60,409.70 L177.00,406.50 L182.10,406.50 L182.80,403.50 L198.00,403.50" stroke="#2a2a2a" stroke-width="0.9" fill="none"/>
<rect x="51.20" y="398.10" width="152.30" height="152.20" stroke="#666" stroke-width="1.1" fill="none"/>
<line x1="48.90" y1="544.50" x2="51.20" y2="544.50" stroke="#444" stroke-width="0.9"/>
<text x="43.20" y="544.50" font-size="5.4" text-anchor="middle" fill="#1a1a1a" transform="rotate(-90 43.20 544.50)">0.0</text>
<line x1="48.90" y1="516.34" x2="51.20" y2="516.34" stroke="#444" stroke-width="0.9"/>
<text x="43.20" y="516.34" font-size="5.4" text-anchor="middle" fill="#1a1a1a" transform="rotate(-90 43.20 516.34)">0.2</text>
<line x1="48.90" y1="488.18" x2="51.20" y2="488.18" stroke="#444" stroke-width="0.9"/>
<text x="43.20" y="488.18" font-size="5.4" text-anchor="middle" fill="#1a1a1a" transform="rotate(-90 43.20 488.18)">0.4</text>
<line x1="48.90" y1="460.02" x2="51.20" y2="460.02" stroke="#444" stroke-width="0.9"/>
<text x="43.20" y="460.02" font-size="5.4" text-anchor="middle" fill="#1a1a1a" transform="rotate(-90 43.20 460.02)">0.6</text>
<line x1="48.90" y1="431.86" x2="51.20" y2="431.86" stroke="#444" stroke-width="0.9"/>
<text x="43.20" y="431.86" font-size="5.4" text-anchor="middle" fill="#1a1a1a" transform="rotate(-90 43.20 431.86)">0.8</text>
<line x1="48.90" y1="403.70" x2="51.20" y2="403.70" stroke="#444" stroke-width="0.9"/>
<text x="43.20" y="403.70" font-size="5.4" text-anchor="middle" fill="#1a1a1a" transform="rotate(-90 43.20 403.70)">1.0</text>
<line x1="56.70" y1="550.30" x2="56.70" y2="552.60" stroke="#444" stroke-width="0.9"/>
<text x="56.70" y="561.50" font-size="5.4" text-anchor="middle" fill="#1a1a1a">1.0</text>
<line x1="84.92" y1="550.30" x2="84.92" y2="552.60" stroke="#444" stroke-width="0.9"/>
<text x="84.92" y="561.50" font-size="5.4" text-anchor="middle" fill="#1a1a1a">0.8</text>
<line x1="113.14" y1="550.30" x2="113.14" y2="552.60" stroke="#444" stroke-width="0.9"/>
<text x="113.14" y="561.50" font-size="5.4" text-anchor="middle" fill="#1a1a1a">0.6</text>
<line x1="141.36" y1="550.30" x2="141.36" y2="552.60" stroke="#444" stroke-width="0.9"/>
<text x="141.36" y="561.50" font-size="5.4" text-anchor="middle" fill="#1a1a1a">0.4</text>
<line x1="169.58" y1="550.30" x2="169.58" y2="552.60" stroke="#444" stroke-width="0.9"/>
<text x="169.58" y="561.50" font-size="5.4" text-anchor="middle" fill="#1a1a1a">0.2</text>
<line x1="197.80" y1="550.30" x2="197.80" y2="552.60" stroke="#444" stroke-width="0.9"/>
<text x="197.80" y="561.50" font-size="5.4" text-anchor="middle" fill="#1a1a1a">0.0</text>
<text x="127.40" y="572.00" font-size="5.8" text-anchor="middle" fill="#1a1a1a">1−Specificities</text>
<text x="33.80" y="473.90" font-size="5.5" text-anchor="middle" fill="#1a1a1a" transform="rotate(-90 33.80 473.90)">Sensitivities</text>
<text x="134.00" y="509.00" font-size="3.6" text-anchor="start" fill="#1a1a1a">AUC=0.764 [0.68,0.847]</text>
<text x="134.00" y="516.00" font-size="3.6" text-anchor="start" fill="#1a1a1a">Time Point=5-year</text>
<line x1="285.10" y1="397.20" x2="285.10" y2="545.20" stroke="#F1F1F1" stroke-width="0.7"/>
<line x1="326.40" y1="397.20" x2="326.40" y2="545.20" stroke="#F1F1F1" stroke-width="0.7"/>
<line x1="367.70" y1="397.20" x2="367.70" y2="545.20" stroke="#F1F1F1" stroke-width="0.7"/>
<line x1="409.00" y1="397.20" x2="409.00" y2="545.20" stroke="#F1F1F1" stroke-width="0.7"/>
<line x1="281.80" y1="501.50" x2="430.10" y2="501.50" stroke="#F1F1F1" stroke-width="0.7"/>
<line x1="281.80" y1="452.70" x2="430.10" y2="452.70" stroke="#F1F1F1" stroke-width="0.7"/>
<line x1="281.80" y1="403.90" x2="430.10" y2="403.90" stroke="#F1F1F1" stroke-width="0.7"/>
<line x1="288.10" y1="501.50" x2="423.20" y2="501.50" stroke="#1FA59A" stroke-width="1.2"/>
<path d="M288.51,429.55 L289.36,431.32 L290.22,433.10 L291.08,434.89 L291.94,436.70 L292.80,438.53 L293.65,440.37 L294.51,442.23 L295.37,444.10 L296.23,445.99 L297.08,447.90 L297.94,449.82 L298.80,451.76 L299.66,453.72 L300.51,455.69 L301.37,457.69 L302.23,459.70 L303.09,461.73 L303.94,463.78 L304.80,465.85 L305.66,467.93 L306.52,470.04 L307.37,472.16 L308.23,474.31 L309.09,476.47 L309.95,478.66 L310.81,480.87 L311.66,483.09 L312.52,485.34 L313.38,487.61 L314.24,489.90 L315.09,492.22 L315.95,494.56 L316.81,496.92 L317.67,499.30 L318.52,501.71 L319.38,504.14 L320.24,506.59 L321.10,509.07 L321.95,511.58 L322.81,514.11 L323.67,516.67 L324.53,519.25 L325.38,521.86 L326.24,524.50 L327.10,527.16 L327.96,529.85 L328.81,532.57 L329.67,535.32 L330.53,538.10" stroke="#3CB2D6" stroke-width="1.0" fill="none"/>
<path d="M288.50,428.50 L293.90,437.00 L297.30,447.10 L297.80,455.30 L303.20,460.30 L307.10,466.50 L311.00,469.60 L313.30,471.10 L317.20,475.80 L319.50,479.60 L321.80,478.90 L324.90,482.70 L329.60,483.50 L331.90,485.80 L337.00,485.50 L339.60,486.60 L342.70,492.00 L345.80,492.00 L348.20,495.10 L352.00,494.00 L355.90,496.70 L358.00,495.50 L360.50,497.10 L366.00,500.20 L368.60,496.20 L371.40,501.00 L379.10,497.40 L386.90,493.60 L389.20,490.00 L394.60,492.00 L397.70,495.10 L405.50,497.00 L422.50,499.00" stroke="#E2503A" stroke-width="1.0" fill="none"/>
<rect x="281.80" y="397.20" width="148.30" height="148.00" stroke="#555" stroke-width="1.2" fill="none"/>
<line x1="279.60" y1="403.90" x2="281.80" y2="403.90" stroke="#444" stroke-width="0.9"/>
<text x="278.80" y="405.70" font-size="5.4" text-anchor="end" fill="#1a1a1a">0.2</text>
<line x1="279.60" y1="452.70" x2="281.80" y2="452.70" stroke="#444" stroke-width="0.9"/>
<text x="278.80" y="454.50" font-size="5.4" text-anchor="end" fill="#1a1a1a">0.1</text>
<line x1="279.60" y1="501.50" x2="281.80" y2="501.50" stroke="#444" stroke-width="0.9"/>
<text x="278.80" y="503.30" font-size="5.4" text-anchor="end" fill="#1a1a1a">0.0</text>
<line x1="285.10" y1="545.20" x2="285.10" y2="547.40" stroke="#444" stroke-width="0.9"/>
<text x="285.10" y="554.20" font-size="5.4" text-anchor="middle" fill="#1a1a1a">0.0</text>
<line x1="326.40" y1="545.20" x2="326.40" y2="547.40" stroke="#444" stroke-width="0.9"/>
<text x="326.40" y="554.20" font-size="5.4" text-anchor="middle" fill="#1a1a1a">0.2</text>
<line x1="367.70" y1="545.20" x2="367.70" y2="547.40" stroke="#444" stroke-width="0.9"/>
<text x="367.70" y="554.20" font-size="5.4" text-anchor="middle" fill="#1a1a1a">0.4</text>
<line x1="409.00" y1="545.20" x2="409.00" y2="547.40" stroke="#444" stroke-width="0.9"/>
<text x="409.00" y="554.20" font-size="5.4" text-anchor="middle" fill="#1a1a1a">0.6</text>
<text x="355.70" y="560.60" font-size="5.7" text-anchor="middle" fill="#1a1a1a">Threshold Probability</text>
<text x="268.50" y="471.00" font-size="5.4" text-anchor="middle" fill="#1a1a1a" transform="rotate(-90 268.50 471.00)">Net Benefit</text>
<line x1="441.90" y1="460.80" x2="454.30" y2="460.80" stroke="#EC7A66" stroke-width="1.4"/>
<text x="458.90" y="462.80" font-size="5.7" text-anchor="start" fill="#1a1a1a">model</text>
<line x1="441.90" y1="475.80" x2="454.30" y2="475.80" stroke="#8CC6D6" stroke-width="1.4"/>
<text x="458.90" y="477.80" font-size="5.7" text-anchor="start" fill="#1a1a1a">All</text>
<line x1="441.90" y1="490.80" x2="454.30" y2="490.80" stroke="#45A898" stroke-width="1.4"/>
<text x="458.90" y="492.80" font-size="5.7" text-anchor="start" fill="#1a1a1a">None</text>
<text x="595.30" y="389.30" font-size="5.28" text-anchor="middle" fill="#111" font-weight="bold">COX Regression Calibration Curve Plot</text>
<line x1="511.20" y1="540.06" x2="678.80" y2="398.33" stroke="#B0B0B0" stroke-width="0.6"/>
<line x1="543.70" y1="398.40" x2="543.70" y2="400.20" stroke="#888" stroke-width="0.45"/>
<line x1="534.35" y1="398.40" x2="534.35" y2="400.20" stroke="#888" stroke-width="0.45"/>
<line x1="564.24" y1="398.40" x2="564.24" y2="400.20" stroke="#888" stroke-width="0.45"/>
<line x1="528.70" y1="398.40" x2="528.70" y2="399.60" stroke="#888" stroke-width="0.45"/>
<line x1="602.07" y1="398.40" x2="602.07" y2="399.90" stroke="#888" stroke-width="0.45"/>
<line x1="545.56" y1="398.40" x2="545.56" y2="399.60" stroke="#888" stroke-width="0.45"/>
<line x1="539.68" y1="398.40" x2="539.68" y2="400.20" stroke="#888" stroke-width="0.45"/>
<line x1="563.91" y1="398.40" x2="563.91" y2="400.20" stroke="#888" stroke-width="0.45"/>
<line x1="564.44" y1="398.40" x2="564.44" y2="400.20" stroke="#888" stroke-width="0.45"/>
<line x1="597.91" y1="398.40" x2="597.91" y2="399.60" stroke="#888" stroke-width="0.45"/>
<line x1="578.23" y1="398.40" x2="578.23" y2="400.20" stroke="#888" stroke-width="0.45"/>
<line x1="556.92" y1="398.40" x2="556.92" y2="399.60" stroke="#888" stroke-width="0.45"/>
<line x1="581.41" y1="398.40" x2="581.41" y2="399.60" stroke="#888" stroke-width="0.45"/>
<line x1="536.87" y1="398.40" x2="536.87" y2="400.20" stroke="#888" stroke-width="0.45"/>
<line x1="526.72" y1="398.40" x2="526.72" y2="399.60" stroke="#888" stroke-width="0.45"/>
<line x1="594.65" y1="398.40" x2="594.65" y2="399.90" stroke="#888" stroke-width="0.45"/>
<line x1="564.13" y1="398.40" x2="564.13" y2="400.20" stroke="#888" stroke-width="0.45"/>
<line x1="603.05" y1="398.40" x2="603.05" y2="399.90" stroke="#888" stroke-width="0.45"/>
<line x1="585.13" y1="398.40" x2="585.13" y2="399.90" stroke="#888" stroke-width="0.45"/>
<line x1="557.36" y1="398.40" x2="557.36" y2="400.20" stroke="#888" stroke-width="0.45"/>
<line x1="561.68" y1="398.40" x2="561.68" y2="399.60" stroke="#888" stroke-width="0.45"/>
<line x1="599.46" y1="398.40" x2="599.46" y2="399.60" stroke="#888" stroke-width="0.45"/>
<line x1="526.12" y1="398.40" x2="526.12" y2="399.90" stroke="#888" stroke-width="0.45"/>
<line x1="541.88" y1="398.40" x2="541.88" y2="400.20" stroke="#888" stroke-width="0.45"/>
<line x1="560.95" y1="398.40" x2="560.95" y2="400.20" stroke="#888" stroke-width="0.45"/>
<line x1="597.40" y1="398.40" x2="597.40" y2="399.90" stroke="#888" stroke-width="0.45"/>
<line x1="567.13" y1="398.40" x2="567.13" y2="399.90" stroke="#888" stroke-width="0.45"/>
<line x1="572.94" y1="398.40" x2="572.94" y2="400.20" stroke="#888" stroke-width="0.45"/>
<line x1="573.90" y1="398.40" x2="573.90" y2="400.20" stroke="#888" stroke-width="0.45"/>
<line x1="543.22" y1="398.40" x2="543.22" y2="399.90" stroke="#888" stroke-width="0.45"/>
<line x1="582.33" y1="398.40" x2="582.33" y2="399.60" stroke="#888" stroke-width="0.45"/>
<line x1="597.51" y1="398.40" x2="597.51" y2="400.20" stroke="#888" stroke-width="0.45"/>
<line x1="581.40" y1="398.40" x2="581.40" y2="399.60" stroke="#888" stroke-width="0.45"/>
<line x1="583.78" y1="398.40" x2="583.78" y2="399.90" stroke="#888" stroke-width="0.45"/>
<line x1="606.92" y1="398.40" x2="606.92" y2="400.20" stroke="#888" stroke-width="0.45"/>
<line x1="572.51" y1="398.40" x2="572.51" y2="400.20" stroke="#888" stroke-width="0.45"/>
<line x1="580.03" y1="398.40" x2="580.03" y2="400.20" stroke="#888" stroke-width="0.45"/>
<line x1="595.35" y1="398.40" x2="595.35" y2="400.20" stroke="#888" stroke-width="0.45"/>
<line x1="546.24" y1="398.40" x2="546.24" y2="399.60" stroke="#888" stroke-width="0.45"/>
<line x1="528.52" y1="398.40" x2="528.52" y2="400.20" stroke="#888" stroke-width="0.45"/>
<line x1="661.47" y1="398.40" x2="661.47" y2="399.90" stroke="#777" stroke-width="0.45"/>
<line x1="627.89" y1="398.40" x2="627.89" y2="399.90" stroke="#777" stroke-width="0.45"/>
<line x1="631.34" y1="398.40" x2="631.34" y2="400.40" stroke="#777" stroke-width="0.45"/>
<line x1="611.05" y1="398.40" x2="611.05" y2="401.40" stroke="#777" stroke-width="0.45"/>
<line x1="649.98" y1="398.40" x2="649.98" y2="399.90" stroke="#777" stroke-width="0.45"/>
<line x1="612.30" y1="398.40" x2="612.30" y2="399.90" stroke="#777" stroke-width="0.45"/>
<line x1="629.65" y1="398.40" x2="629.65" y2="400.90" stroke="#777" stroke-width="0.45"/>
<line x1="638.64" y1="398.40" x2="638.64" y2="400.90" stroke="#777" stroke-width="0.45"/>
<line x1="636.28" y1="398.40" x2="636.28" y2="399.90" stroke="#777" stroke-width="0.45"/>
<line x1="626.10" y1="398.40" x2="626.10" y2="399.90" stroke="#777" stroke-width="0.45"/>
<line x1="615.62" y1="398.40" x2="615.62" y2="399.90" stroke="#777" stroke-width="0.45"/>
<line x1="659.34" y1="398.40" x2="659.34" y2="401.40" stroke="#777" stroke-width="0.45"/>
<line x1="645.87" y1="398.40" x2="645.87" y2="400.90" stroke="#777" stroke-width="0.45"/>
<line x1="626.32" y1="398.40" x2="626.32" y2="400.40" stroke="#777" stroke-width="0.45"/>
<line x1="656.63" y1="398.40" x2="656.63" y2="401.40" stroke="#777" stroke-width="0.45"/>
<line x1="629.59" y1="398.40" x2="629.59" y2="401.40" stroke="#777" stroke-width="0.45"/>
<line x1="643.48" y1="398.40" x2="643.48" y2="399.90" stroke="#777" stroke-width="0.45"/>
<line x1="642.25" y1="398.40" x2="642.25" y2="400.90" stroke="#777" stroke-width="0.45"/>
<line x1="632.42" y1="398.40" x2="632.42" y2="400.40" stroke="#777" stroke-width="0.45"/>
<line x1="658.69" y1="398.40" x2="658.69" y2="401.40" stroke="#777" stroke-width="0.45"/>
<line x1="660.85" y1="398.40" x2="660.85" y2="400.90" stroke="#777" stroke-width="0.45"/>
<line x1="638.52" y1="398.40" x2="638.52" y2="399.90" stroke="#777" stroke-width="0.45"/>
<line x1="651.00" y1="398.40" x2="651.00" y2="400.90" stroke="#777" stroke-width="0.45"/>
<line x1="611.04" y1="398.40" x2="611.04" y2="400.40" stroke="#777" stroke-width="0.45"/>
<line x1="613.12" y1="398.40" x2="613.12" y2="400.90" stroke="#777" stroke-width="0.45"/>
<line x1="634.25" y1="398.40" x2="634.25" y2="400.90" stroke="#777" stroke-width="0.45"/>
<line x1="641.66" y1="398.40" x2="641.66" y2="400.90" stroke="#777" stroke-width="0.45"/>
<line x1="648.38" y1="398.40" x2="648.38" y2="399.90" stroke="#777" stroke-width="0.45"/>
<line x1="640.65" y1="398.40" x2="640.65" y2="399.90" stroke="#777" stroke-width="0.45"/>
<line x1="660.09" y1="398.40" x2="660.09" y2="400.90" stroke="#777" stroke-width="0.45"/>
<line x1="642.65" y1="398.40" x2="642.65" y2="400.90" stroke="#777" stroke-width="0.45"/>
<line x1="640.82" y1="398.40" x2="640.82" y2="400.90" stroke="#777" stroke-width="0.45"/>
<line x1="619.23" y1="398.40" x2="619.23" y2="400.40" stroke="#777" stroke-width="0.45"/>
<line x1="626.26" y1="398.40" x2="626.26" y2="400.90" stroke="#777" stroke-width="0.45"/>
<line x1="653.88" y1="398.40" x2="653.88" y2="400.90" stroke="#777" stroke-width="0.45"/>
<line x1="629.61" y1="398.40" x2="629.61" y2="399.90" stroke="#777" stroke-width="0.45"/>
<line x1="660.51" y1="398.40" x2="660.51" y2="400.40" stroke="#777" stroke-width="0.45"/>
<line x1="626.12" y1="398.40" x2="626.12" y2="400.40" stroke="#777" stroke-width="0.45"/>
<line x1="643.99" y1="398.40" x2="643.99" y2="400.90" stroke="#777" stroke-width="0.45"/>
<line x1="622.41" y1="398.40" x2="622.41" y2="400.40" stroke="#777" stroke-width="0.45"/>
<line x1="645.26" y1="398.40" x2="645.26" y2="399.90" stroke="#777" stroke-width="0.45"/>
<line x1="615.30" y1="398.40" x2="615.30" y2="400.90" stroke="#777" stroke-width="0.45"/>
<line x1="659.36" y1="398.40" x2="659.36" y2="400.40" stroke="#777" stroke-width="0.45"/>
<line x1="632.80" y1="398.40" x2="632.80" y2="400.40" stroke="#777" stroke-width="0.45"/>
<line x1="614.16" y1="398.40" x2="614.16" y2="400.40" stroke="#777" stroke-width="0.45"/>
<line x1="656.01" y1="398.40" x2="656.01" y2="401.40" stroke="#777" stroke-width="0.45"/>
<line x1="650.92" y1="398.40" x2="650.92" y2="399.90" stroke="#777" stroke-width="0.45"/>
<line x1="637.54" y1="398.40" x2="637.54" y2="400.40" stroke="#777" stroke-width="0.45"/>
<line x1="626.39" y1="398.40" x2="626.39" y2="400.40" stroke="#777" stroke-width="0.45"/>
<line x1="654.91" y1="398.40" x2="654.91" y2="400.90" stroke="#777" stroke-width="0.45"/>
<line x1="651.98" y1="398.40" x2="651.98" y2="399.90" stroke="#777" stroke-width="0.45"/>
<line x1="651.93" y1="398.40" x2="651.93" y2="400.90" stroke="#777" stroke-width="0.45"/>
<line x1="640.65" y1="398.40" x2="640.65" y2="401.40" stroke="#777" stroke-width="0.45"/>
<line x1="651.28" y1="398.40" x2="651.28" y2="400.90" stroke="#777" stroke-width="0.45"/>
<line x1="634.17" y1="398.40" x2="634.17" y2="401.40" stroke="#777" stroke-width="0.45"/>
<line x1="639.55" y1="398.40" x2="639.55" y2="399.90" stroke="#777" stroke-width="0.45"/>
<line x1="657.87" y1="398.40" x2="657.87" y2="400.40" stroke="#777" stroke-width="0.45"/>
<line x1="620.38" y1="398.40" x2="620.38" y2="401.40" stroke="#777" stroke-width="0.45"/>
<line x1="659.05" y1="398.40" x2="659.05" y2="401.40" stroke="#777" stroke-width="0.45"/>
<line x1="639.06" y1="398.40" x2="639.06" y2="400.40" stroke="#777" stroke-width="0.45"/>
<line x1="611.68" y1="398.40" x2="611.68" y2="401.40" stroke="#777" stroke-width="0.45"/>
<line x1="653.51" y1="398.40" x2="653.51" y2="400.90" stroke="#777" stroke-width="0.45"/>
<line x1="638.28" y1="398.40" x2="638.28" y2="400.40" stroke="#777" stroke-width="0.45"/>
<line x1="654.80" y1="398.40" x2="654.80" y2="400.90" stroke="#777" stroke-width="0.45"/>
<line x1="621.50" y1="398.40" x2="621.50" y2="403.40" stroke="#777" stroke-width="0.5"/>
<line x1="646.60" y1="398.40" x2="646.60" y2="403.90" stroke="#777" stroke-width="0.5"/>
<line x1="631.00" y1="398.40" x2="631.00" y2="401.90" stroke="#777" stroke-width="0.5"/>
<line x1="655.00" y1="398.40" x2="655.00" y2="401.90" stroke="#777" stroke-width="0.5"/>
<line x1="612.00" y1="398.40" x2="612.00" y2="401.90" stroke="#777" stroke-width="0.5"/>
<path d="M569.90,489.90 L614.80,467.30 L635.90,436.90 L651.80,422.50" stroke="#E4582E" stroke-width="1.4" fill="none"/>
<circle cx="569.9" cy="489.9" r="1.0" fill="#B83020"/>
<circle cx="614.8" cy="467.3" r="1.0" fill="#B83020"/>
<circle cx="635.9" cy="436.9" r="1.0" fill="#B83020"/>
<circle cx="651.8" cy="422.5" r="1.0" fill="#B83020"/>
<line x1="568.60" y1="483.50" x2="571.20" y2="486.10" stroke="#4858E8" stroke-width="0.9"/>
<line x1="568.60" y1="486.10" x2="571.20" y2="483.50" stroke="#4858E8" stroke-width="0.9"/>
<line x1="613.50" y1="468.20" x2="616.10" y2="470.80" stroke="#4858E8" stroke-width="0.9"/>
<line x1="613.50" y1="470.80" x2="616.10" y2="468.20" stroke="#4858E8" stroke-width="0.9"/>
<line x1="634.60" y1="438.00" x2="637.20" y2="440.60" stroke="#4858E8" stroke-width="0.9"/>
<line x1="634.60" y1="440.60" x2="637.20" y2="438.00" stroke="#4858E8" stroke-width="0.9"/>
<line x1="650.90" y1="426.20" x2="653.50" y2="428.80" stroke="#4858E8" stroke-width="0.9"/>
<line x1="650.90" y1="428.80" x2="653.50" y2="426.20" stroke="#4858E8" stroke-width="0.9"/>
<rect x="510.70" y="398.40" width="168.60" height="141.10" stroke="#707070" stroke-width="0.9" fill="none"/>
<line x1="508.70" y1="534.90" x2="510.70" y2="534.90" stroke="#555" stroke-width="0.7"/>
<text x="506.00" y="534.90" font-size="4.4" text-anchor="middle" fill="#1a1a1a" transform="rotate(-90 506.00 534.90)">0.0</text>
<line x1="517.30" y1="539.50" x2="517.30" y2="541.50" stroke="#555" stroke-width="0.7"/>
<text x="517.30" y="550.50" font-size="4.4" text-anchor="middle" fill="#1a1a1a">0.0</text>
<line x1="508.70" y1="508.60" x2="510.70" y2="508.60" stroke="#555" stroke-width="0.7"/>
<text x="506.00" y="508.60" font-size="4.4" text-anchor="middle" fill="#1a1a1a" transform="rotate(-90 506.00 508.60)">0.2</text>
<line x1="548.40" y1="539.50" x2="548.40" y2="541.50" stroke="#555" stroke-width="0.7"/>
<text x="548.40" y="550.50" font-size="4.4" text-anchor="middle" fill="#1a1a1a">0.2</text>
<line x1="508.70" y1="482.30" x2="510.70" y2="482.30" stroke="#555" stroke-width="0.7"/>
<text x="506.00" y="482.30" font-size="4.4" text-anchor="middle" fill="#1a1a1a" transform="rotate(-90 506.00 482.30)">0.4</text>
<line x1="579.50" y1="539.50" x2="579.50" y2="541.50" stroke="#555" stroke-width="0.7"/>
<text x="579.50" y="550.50" font-size="4.4" text-anchor="middle" fill="#1a1a1a">0.4</text>
<line x1="508.70" y1="456.00" x2="510.70" y2="456.00" stroke="#555" stroke-width="0.7"/>
<text x="506.00" y="456.00" font-size="4.4" text-anchor="middle" fill="#1a1a1a" transform="rotate(-90 506.00 456.00)">0.6</text>
<line x1="610.60" y1="539.50" x2="610.60" y2="541.50" stroke="#555" stroke-width="0.7"/>
<text x="610.60" y="550.50" font-size="4.4" text-anchor="middle" fill="#1a1a1a">0.6</text>
<line x1="508.70" y1="429.70" x2="510.70" y2="429.70" stroke="#555" stroke-width="0.7"/>
<text x="506.00" y="429.70" font-size="4.4" text-anchor="middle" fill="#1a1a1a" transform="rotate(-90 506.00 429.70)">0.8</text>
<line x1="641.70" y1="539.50" x2="641.70" y2="541.50" stroke="#555" stroke-width="0.7"/>
<text x="641.70" y="550.50" font-size="4.4" text-anchor="middle" fill="#1a1a1a">0.8</text>
<line x1="508.70" y1="403.40" x2="510.70" y2="403.40" stroke="#555" stroke-width="0.7"/>
<text x="506.00" y="403.40" font-size="4.4" text-anchor="middle" fill="#1a1a1a" transform="rotate(-90 506.00 403.40)">1.0</text>
<line x1="672.80" y1="539.50" x2="672.80" y2="541.50" stroke="#555" stroke-width="0.7"/>
<text x="672.80" y="550.50" font-size="4.4" text-anchor="middle" fill="#1a1a1a">1.0</text>
<text x="594.50" y="560.90" font-size="4.4" text-anchor="middle" fill="#1a1a1a">Predicted Probability</text>
<text x="493.20" y="468.90" font-size="3.9" text-anchor="middle" fill="#1a1a1a" transform="rotate(-90 493.20 468.90)">Observed Probability</text>
<path d="M773.80,400.70 L800.00,402.50 L820.00,404.50 L840.00,412.00 L842.10,413.60 L847.20,415.10 L847.20,417.20 L866.80,417.20 L867.90,419.80 L871.00,419.80 L871.00,422.40 L875.60,422.40 L875.60,426.00 L876.10,429.10 L876.60,431.60 L880.80,431.60 L880.80,435.30 L883.40,435.30 L883.40,438.40 L897.30,438.40 L897.30,442.00 L903.00,442.00 L903.00,445.60 L937.90,445.60 L937.90,449.20 L943.00,449.20 L943.00,454.00 L1006.70,454.00 L1006.70,458.30 L1036.50,458.30 L1036.50,497.80 L1006.70,497.80 L1006.70,492.60 L943.00,492.60 L943.00,488.40 L937.90,488.40 L937.90,483.60 L902.70,483.60 L902.70,479.90 L897.80,479.90 L897.80,475.70 L884.00,475.70 L884.00,467.30 L877.30,467.30 L876.10,461.90 L874.90,457.00 L874.90,452.20 L867.10,452.20 L867.10,449.20 L847.80,449.20 L847.80,445.00 L844.80,445.00 L844.80,442.00 L838.80,442.00 L838.80,438.40 L833.60,438.40 L833.60,435.30 L823.30,435.30 L823.30,431.60 L814.00,431.60 L814.00,428.50 L807.80,428.50 L807.80,424.90 L797.00,424.90 L797.00,421.30 L784.10,421.30 L784.10,417.20 L780.30,417.20 L780.00,408.40 L775.80,408.40 L775.30,402.70 Z" stroke="none" stroke-width="1" fill="#C9C9FA"/>
<path d="M773.80,400.20 L806.30,401.70 L845.00,404.30 L874.10,407.40 L881.30,408.90 L891.60,410.50 L974.90,410.50 L974.90,411.50 L1009.30,412.00 L1009.80,413.60 L1029.90,413.60 L1030.40,412.50 L1036.60,412.50 L1036.60,467.90 L1030.20,467.90 L1030.20,448.50 L1009.80,448.50 L1009.80,439.40 L1003.10,439.40 L1003.10,429.60 L974.90,429.60 L974.90,424.90 L893.70,423.90 L884.40,422.40 L879.20,419.80 L865.80,417.20 L845.00,413.00 L837.30,411.50 L816.60,408.40 L806.30,405.30 L775.30,403.30 Z" stroke="none" stroke-width="1" fill="#E89A9A" fill-opacity="0.68"/>
<path d="M773.80,400.70 L776.40,402.20 L778.90,403.30 L779.50,405.30 L780.30,407.40 L781.00,408.90 L783.10,408.90 L784.10,410.50 L784.60,411.80 L796.00,411.80 L796.50,414.10 L806.80,414.10 L807.30,417.00 L813.50,417.00 L814.00,419.80 L822.30,419.80 L822.80,422.40 L832.60,422.40 L833.60,424.90 L837.80,425.10 L838.80,427.80 L843.50,428.00 L844.50,430.10 L844.60,431.30 L847.70,431.60 L848.30,434.70 L867.40,434.70 L867.90,438.40 L871.00,438.40 L871.50,442.00 L875.60,442.50 L876.10,446.60 L876.60,450.70 L877.20,452.50 L880.40,452.80 L881.60,455.80 L883.40,457.00 L884.00,460.40 L897.20,460.40 L897.80,463.70 L902.00,464.30 L902.70,469.40 L937.30,469.40 L937.70,473.90 L942.70,473.90 L943.00,479.30 L1006.70,479.30 L1006.70,485.40 L1036.80,485.40" stroke="#3838E0" stroke-width="1.25" fill="none"/>
<line x1="790.00" y1="410.50" x2="790.00" y2="413.10" stroke="#3838E0" stroke-width="0.7"/>
<line x1="801.00" y1="412.80" x2="801.00" y2="415.40" stroke="#3838E0" stroke-width="0.7"/>
<line x1="828.00" y1="421.10" x2="828.00" y2="423.70" stroke="#3838E0" stroke-width="0.7"/>
<line x1="858.00" y1="433.40" x2="858.00" y2="436.00" stroke="#3838E0" stroke-width="0.7"/>
<line x1="892.00" y1="459.10" x2="892.00" y2="461.70" stroke="#3838E0" stroke-width="0.7"/>
<line x1="930.00" y1="468.10" x2="930.00" y2="470.70" stroke="#3838E0" stroke-width="0.7"/>
<line x1="986.10" y1="478.00" x2="986.10" y2="480.60" stroke="#3838E0" stroke-width="0.7"/>
<line x1="1027.80" y1="484.10" x2="1027.80" y2="486.70" stroke="#3838E0" stroke-width="0.7"/>
<line x1="1030.20" y1="484.10" x2="1030.20" y2="486.70" stroke="#3838E0" stroke-width="0.7"/>
<line x1="1036.80" y1="484.10" x2="1036.80" y2="486.70" stroke="#3838E0" stroke-width="0.7"/>
<path d="M773.80,400.70 L785.60,402.00 L801.10,403.30 L813.50,404.80 L818.70,406.40 L832.10,407.40 L845.00,408.90 L858.60,410.50 L874.10,412.00 L881.30,413.60 L884.40,415.60 L893.70,417.20 L920.00,417.60 L974.40,417.50 L974.90,420.80 L1001.50,421.30 L1003.10,422.40 L1003.60,426.00 L1009.30,428.00 L1009.80,433.20 L1028.90,433.70 L1029.40,438.40 L1029.90,445.60 L1037.60,445.60" stroke="#C42A2A" stroke-width="1.1" fill="none" stroke-dasharray="2.2,1.5"/>
<line x1="920.95" y1="416.30" x2="920.95" y2="418.90" stroke="#C42A2A" stroke-width="0.6"/>
<line x1="945.28" y1="416.25" x2="945.28" y2="418.85" stroke="#C42A2A" stroke-width="0.6"/>
<line x1="1021.91" y1="432.22" x2="1021.91" y2="434.82" stroke="#C42A2A" stroke-width="0.6"/>
<line x1="924.01" y1="416.29" x2="924.01" y2="418.89" stroke="#C42A2A" stroke-width="0.6"/>
<line x1="933.64" y1="416.27" x2="933.64" y2="418.87" stroke="#C42A2A" stroke-width="0.6"/>
<line x1="951.37" y1="416.24" x2="951.37" y2="418.84" stroke="#C42A2A" stroke-width="0.6"/>
<line x1="853.94" y1="408.65" x2="853.94" y2="411.25" stroke="#C42A2A" stroke-width="0.6"/>
<line x1="934.56" y1="416.27" x2="934.56" y2="418.87" stroke="#C42A2A" stroke-width="0.6"/>
<line x1="960.65" y1="416.23" x2="960.65" y2="418.83" stroke="#C42A2A" stroke-width="0.6"/>
<line x1="995.17" y1="419.88" x2="995.17" y2="422.48" stroke="#C42A2A" stroke-width="0.6"/>
<line x1="827.30" y1="405.74" x2="827.30" y2="408.34" stroke="#C42A2A" stroke-width="0.6"/>
<line x1="885.13" y1="414.43" x2="885.13" y2="417.03" stroke="#C42A2A" stroke-width="0.6"/>
<line x1="826.20" y1="405.66" x2="826.20" y2="408.26" stroke="#C42A2A" stroke-width="0.6"/>
<line x1="998.61" y1="419.95" x2="998.61" y2="422.55" stroke="#C42A2A" stroke-width="0.6"/>
<line x1="974.29" y1="416.20" x2="974.29" y2="418.80" stroke="#C42A2A" stroke-width="0.6"/>
<line x1="809.51" y1="403.02" x2="809.51" y2="405.62" stroke="#C42A2A" stroke-width="0.6"/>
<line x1="1033.48" y1="444.30" x2="1033.48" y2="446.90" stroke="#C42A2A" stroke-width="0.6"/>
<line x1="1030.01" y1="444.30" x2="1030.01" y2="446.90" stroke="#C42A2A" stroke-width="0.6"/>
<line x1="965.84" y1="416.22" x2="965.84" y2="418.82" stroke="#C42A2A" stroke-width="0.6"/>
<line x1="957.54" y1="416.23" x2="957.54" y2="418.83" stroke="#C42A2A" stroke-width="0.6"/>
<line x1="846.30" y1="407.75" x2="846.30" y2="410.35" stroke="#C42A2A" stroke-width="0.6"/>
<line x1="798.58" y1="401.79" x2="798.58" y2="404.39" stroke="#C42A2A" stroke-width="0.6"/>
<line x1="938.27" y1="416.27" x2="938.27" y2="418.87" stroke="#C42A2A" stroke-width="0.6"/>
<line x1="815.86" y1="404.23" x2="815.86" y2="406.83" stroke="#C42A2A" stroke-width="0.6"/>
<line x1="855.48" y1="408.83" x2="855.48" y2="411.43" stroke="#C42A2A" stroke-width="0.6"/>
<line x1="869.37" y1="410.24" x2="869.37" y2="412.84" stroke="#C42A2A" stroke-width="0.6"/>
<line x1="804.97" y1="402.47" x2="804.97" y2="405.07" stroke="#C42A2A" stroke-width="0.6"/>
<line x1="923.62" y1="416.29" x2="923.62" y2="418.89" stroke="#C42A2A" stroke-width="0.6"/>
<line x1="918.20" y1="416.27" x2="918.20" y2="418.87" stroke="#C42A2A" stroke-width="0.6"/>
<line x1="1005.34" y1="425.31" x2="1005.34" y2="427.91" stroke="#C42A2A" stroke-width="0.6"/>
<line x1="936.19" y1="416.27" x2="936.19" y2="418.87" stroke="#C42A2A" stroke-width="0.6"/>
<line x1="962.90" y1="416.22" x2="962.90" y2="418.82" stroke="#C42A2A" stroke-width="0.6"/>
<line x1="931.81" y1="416.28" x2="931.81" y2="418.88" stroke="#C42A2A" stroke-width="0.6"/>
<line x1="967.67" y1="416.21" x2="967.67" y2="418.81" stroke="#C42A2A" stroke-width="0.6"/>
<line x1="922.09" y1="416.30" x2="922.09" y2="418.90" stroke="#C42A2A" stroke-width="0.6"/>
<line x1="878.74" y1="411.73" x2="878.74" y2="414.33" stroke="#C42A2A" stroke-width="0.6"/>
<line x1="1036.54" y1="444.30" x2="1036.54" y2="446.90" stroke="#C42A2A" stroke-width="0.6"/>
<line x1="1036.15" y1="444.30" x2="1036.15" y2="446.90" stroke="#C42A2A" stroke-width="0.6"/>
<line x1="1004.89" y1="425.15" x2="1004.89" y2="427.75" stroke="#C42A2A" stroke-width="0.6"/>
<line x1="977.34" y1="419.55" x2="977.34" y2="422.15" stroke="#C42A2A" stroke-width="0.6"/>
<line x1="888.10" y1="414.94" x2="888.10" y2="417.54" stroke="#C42A2A" stroke-width="0.6"/>
<line x1="866.13" y1="409.93" x2="866.13" y2="412.53" stroke="#C42A2A" stroke-width="0.6"/>
<line x1="881.51" y1="412.43" x2="881.51" y2="415.03" stroke="#C42A2A" stroke-width="0.6"/>
<line x1="819.50" y1="405.16" x2="819.50" y2="407.76" stroke="#C42A2A" stroke-width="0.6"/>
<line x1="989.62" y1="419.78" x2="989.62" y2="422.38" stroke="#C42A2A" stroke-width="0.6"/>
<line x1="908.77" y1="416.13" x2="908.77" y2="418.73" stroke="#C42A2A" stroke-width="0.6"/>
<line x1="1006.19" y1="425.61" x2="1006.19" y2="428.21" stroke="#C42A2A" stroke-width="0.6"/>
<line x1="905.46" y1="416.08" x2="905.46" y2="418.68" stroke="#C42A2A" stroke-width="0.6"/>
<line x1="1028.67" y1="432.39" x2="1028.67" y2="434.99" stroke="#C42A2A" stroke-width="0.6"/>
<line x1="1006.34" y1="425.66" x2="1006.34" y2="428.26" stroke="#C42A2A" stroke-width="0.6"/>
<line x1="790.61" y1="401.12" x2="790.61" y2="403.72" stroke="#C42A2A" stroke-width="0.6"/>
<line x1="860.80" y1="409.41" x2="860.80" y2="412.01" stroke="#C42A2A" stroke-width="0.6"/>
<line x1="1019.10" y1="432.14" x2="1019.10" y2="434.74" stroke="#C42A2A" stroke-width="0.6"/>
<line x1="925.01" y1="416.29" x2="925.01" y2="418.89" stroke="#C42A2A" stroke-width="0.6"/>
<line x1="1033.11" y1="444.30" x2="1033.11" y2="446.90" stroke="#C42A2A" stroke-width="0.6"/>
<line x1="908.06" y1="416.12" x2="908.06" y2="418.72" stroke="#C42A2A" stroke-width="0.6"/>
<line x1="820.45" y1="405.23" x2="820.45" y2="407.83" stroke="#C42A2A" stroke-width="0.6"/>
<line x1="960.56" y1="416.23" x2="960.56" y2="418.83" stroke="#C42A2A" stroke-width="0.6"/>
<line x1="992.17" y1="419.82" x2="992.17" y2="422.42" stroke="#C42A2A" stroke-width="0.6"/>
<line x1="876.60" y1="411.25" x2="876.60" y2="413.85" stroke="#C42A2A" stroke-width="0.6"/>
<line x1="825.07" y1="405.58" x2="825.07" y2="408.18" stroke="#C42A2A" stroke-width="0.6"/>
<line x1="892.38" y1="415.67" x2="892.38" y2="418.27" stroke="#C42A2A" stroke-width="0.6"/>
<line x1="1029.88" y1="443.95" x2="1029.88" y2="446.55" stroke="#C42A2A" stroke-width="0.6"/>
<line x1="987.90" y1="419.74" x2="987.90" y2="422.34" stroke="#C42A2A" stroke-width="0.6"/>
<line x1="834.69" y1="406.40" x2="834.69" y2="409.00" stroke="#C42A2A" stroke-width="0.6"/>
<line x1="870.54" y1="410.36" x2="870.54" y2="412.96" stroke="#C42A2A" stroke-width="0.6"/>
<line x1="829.47" y1="405.90" x2="829.47" y2="408.50" stroke="#C42A2A" stroke-width="0.6"/>
<line x1="815.98" y1="404.26" x2="815.98" y2="406.86" stroke="#C42A2A" stroke-width="0.6"/>
<line x1="996.00" y1="419.90" x2="996.00" y2="422.50" stroke="#C42A2A" stroke-width="0.6"/>
<line x1="852.00" y1="408.42" x2="852.00" y2="411.02" stroke="#C42A2A" stroke-width="0.6"/>
<line x1="773.80" y1="455.40" x2="881.00" y2="455.40" stroke="#222" stroke-width="0.9" stroke-dasharray="2.3,1.9"/>
<line x1="881.00" y1="455.40" x2="881.00" y2="509.10" stroke="#222" stroke-width="0.9" stroke-dasharray="2.3,1.9"/>
<text x="772.30" y="467.40" font-size="3.3" text-anchor="start" fill="#1a1a1a">p &lt; 0.0001</text>
<line x1="759.20" y1="395.40" x2="1050.30" y2="395.40" stroke="#8a8a8a" stroke-width="1.0"/>
<line x1="1050.30" y1="395.40" x2="1050.30" y2="514.60" stroke="#dcdcdc" stroke-width="0.6"/>
<line x1="759.20" y1="395.40" x2="759.20" y2="514.60" stroke="#777" stroke-width="0.9"/>
<line x1="759.20" y1="514.60" x2="1050.30" y2="514.60" stroke="#777" stroke-width="0.9"/>
<line x1="757.20" y1="401.20" x2="759.20" y2="401.20" stroke="#444" stroke-width="0.8"/>
<text x="757.30" y="402.60" font-size="4.0" text-anchor="end" fill="#1a1a1a">100%</text>
<line x1="757.20" y1="428.18" x2="759.20" y2="428.18" stroke="#444" stroke-width="0.8"/>
<text x="757.30" y="429.57" font-size="4.0" text-anchor="end" fill="#1a1a1a">75%</text>
<line x1="757.20" y1="455.15" x2="759.20" y2="455.15" stroke="#444" stroke-width="0.8"/>
<text x="757.30" y="456.55" font-size="4.0" text-anchor="end" fill="#1a1a1a">50%</text>
<line x1="757.20" y1="482.12" x2="759.20" y2="482.12" stroke="#444" stroke-width="0.8"/>
<text x="757.30" y="483.52" font-size="4.0" text-anchor="end" fill="#1a1a1a">25%</text>
<line x1="757.20" y1="509.10" x2="759.20" y2="509.10" stroke="#444" stroke-width="0.8"/>
<text x="757.30" y="510.50" font-size="4.0" text-anchor="end" fill="#1a1a1a">0%</text>
<line x1="773.00" y1="514.60" x2="773.00" y2="516.60" stroke="#444" stroke-width="0.8"/>
<text x="773.00" y="521.30" font-size="4.0" text-anchor="middle" fill="#1a1a1a">0</text>
<line x1="839.00" y1="514.60" x2="839.00" y2="516.60" stroke="#444" stroke-width="0.8"/>
<text x="839.00" y="521.30" font-size="4.0" text-anchor="middle" fill="#1a1a1a">500</text>
<line x1="905.00" y1="514.60" x2="905.00" y2="516.60" stroke="#444" stroke-width="0.8"/>
<text x="905.00" y="521.30" font-size="4.0" text-anchor="middle" fill="#1a1a1a">1000</text>
<line x1="971.00" y1="514.60" x2="971.00" y2="516.60" stroke="#444" stroke-width="0.8"/>
<text x="971.00" y="521.30" font-size="4.0" text-anchor="middle" fill="#1a1a1a">1500</text>
<line x1="1037.00" y1="514.60" x2="1037.00" y2="516.60" stroke="#444" stroke-width="0.8"/>
<text x="1037.00" y="521.30" font-size="4.0" text-anchor="middle" fill="#1a1a1a">2000</text>
<text x="905.20" y="526.60" font-size="4.2" text-anchor="middle" fill="#1a1a1a">Time</text>
<text x="745.30" y="455.50" font-size="4.0" text-anchor="middle" fill="#1a1a1a" transform="rotate(-90 745.30 455.50)">Survival Probability</text>
<rect x="846.00" y="379.30" width="7.90" height="7.70" stroke="none" stroke-width="1" fill="#C9C9FA"/>
<line x1="846.00" y1="383.20" x2="853.90" y2="383.20" stroke="#3838E0" stroke-width="1.1"/>
<line x1="849.90" y1="381.80" x2="849.90" y2="384.60" stroke="#3838E0" stroke-width="0.6"/>
<text x="856.50" y="384.70" font-size="4.2" text-anchor="start" fill="#1a1a1a">High-Risk</text>
<rect x="908.70" y="379.30" width="7.70" height="7.70" stroke="none" stroke-width="1" fill="#F3C4C4"/>
<line x1="908.70" y1="383.20" x2="916.40" y2="383.20" stroke="#C42A2A" stroke-width="1.0" stroke-dasharray="2,1.2"/>
<line x1="912.50" y1="381.80" x2="912.50" y2="384.60" stroke="#C42A2A" stroke-width="0.6"/>
<text x="919.00" y="384.70" font-size="4.2" text-anchor="start" fill="#1a1a1a">Low-Risk</text>
<text x="924.70" y="532.50" font-size="6.0" text-anchor="middle" fill="#1a1a1a">Number at risk</text>
<line x1="799.30" y1="535.30" x2="1049.80" y2="535.30" stroke="#777" stroke-width="0.9"/>
<line x1="799.30" y1="567.60" x2="1049.80" y2="567.60" stroke="#777" stroke-width="0.9"/>
<line x1="799.30" y1="535.30" x2="799.30" y2="567.60" stroke="#666" stroke-width="0.9"/>
<line x1="1049.80" y1="535.30" x2="1049.80" y2="567.60" stroke="#d8d8d8" stroke-width="0.6"/>
<line x1="797.40" y1="543.90" x2="799.30" y2="543.90" stroke="#444" stroke-width="0.8"/>
<line x1="797.40" y1="559.00" x2="799.30" y2="559.00" stroke="#444" stroke-width="0.8"/>
<text x="765.20" y="545.30" font-size="4.2" text-anchor="end" fill="#4040E8">High-Risk</text>
<text x="764.30" y="560.50" font-size="4.2" text-anchor="end" fill="#D03030">Low-Risk</text>
<text x="810.30" y="545.90" font-size="5.0" text-anchor="middle" fill="#111">40</text>
<text x="810.30" y="560.90" font-size="5.0" text-anchor="middle" fill="#111">172</text>
<text x="867.50" y="545.90" font-size="5.0" text-anchor="middle" fill="#111">27</text>
<text x="867.50" y="560.90" font-size="5.0" text-anchor="middle" fill="#111">136</text>
<text x="924.80" y="545.90" font-size="5.0" text-anchor="middle" fill="#111">9</text>
<text x="924.80" y="560.90" font-size="5.0" text-anchor="middle" fill="#111">58</text>
<text x="981.70" y="545.90" font-size="5.0" text-anchor="middle" fill="#111">6</text>
<text x="981.70" y="560.90" font-size="5.0" text-anchor="middle" fill="#111">27</text>
<text x="1038.90" y="545.90" font-size="5.0" text-anchor="middle" fill="#111">0</text>
<text x="1038.90" y="560.90" font-size="5.0" text-anchor="middle" fill="#111">0</text>
<line x1="810.30" y1="567.60" x2="810.30" y2="569.60" stroke="#444" stroke-width="0.8"/>
<text x="810.30" y="574.00" font-size="3.8" text-anchor="middle" fill="#1a1a1a">0</text>
<line x1="867.50" y1="567.60" x2="867.50" y2="569.60" stroke="#444" stroke-width="0.8"/>
<text x="867.50" y="574.00" font-size="3.8" text-anchor="middle" fill="#1a1a1a">500</text>
<line x1="924.80" y1="567.60" x2="924.80" y2="569.60" stroke="#444" stroke-width="0.8"/>
<text x="924.80" y="574.00" font-size="3.8" text-anchor="middle" fill="#1a1a1a">1000</text>
<line x1="981.70" y1="567.60" x2="981.70" y2="569.60" stroke="#444" stroke-width="0.8"/>
<text x="981.70" y="574.00" font-size="3.8" text-anchor="middle" fill="#1a1a1a">1500</text>
<line x1="1038.90" y1="567.60" x2="1038.90" y2="569.60" stroke="#444" stroke-width="0.8"/>
<text x="1038.90" y="574.00" font-size="3.8" text-anchor="middle" fill="#1a1a1a">2000</text>
<text x="924.80" y="579.20" font-size="4.2" text-anchor="middle" fill="#1a1a1a">Time</text>
</svg>
</body></html>
